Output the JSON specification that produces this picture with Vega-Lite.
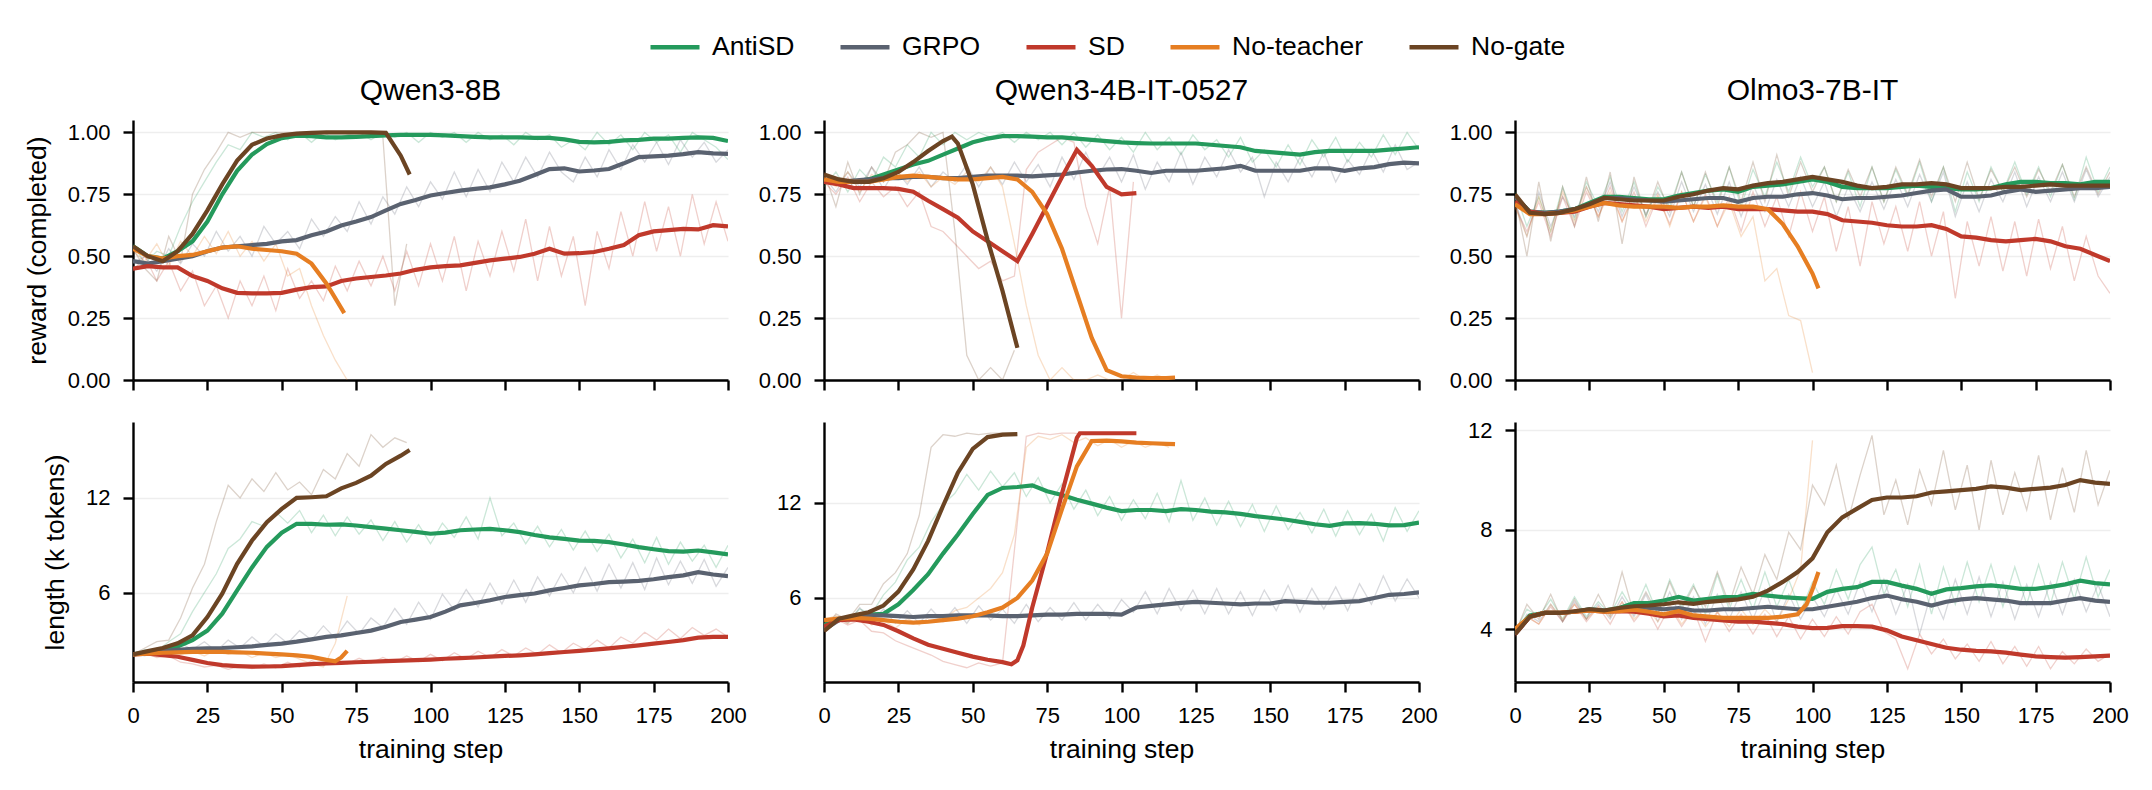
{
"$schema":"https://vega.github.io/schema/vega-lite/v6.json",
"background":"white",
"padding":{"left":24,"top":20,"right":10,"bottom":10},
"datasets":{
"smooth":[
{"p":"Qwen3-8B","m":"reward","x":0,"AntiSD":0.54,"GRPO":0.48,"SD":0.45,"No-teacher":0.53,"No-gate":0.54},
{"p":"Qwen3-8B","m":"reward","x":5,"AntiSD":0.50,"GRPO":0.47,"SD":0.46,"No-teacher":0.50,"No-gate":0.50},
{"p":"Qwen3-8B","m":"reward","x":10,"AntiSD":0.49,"GRPO":0.48,"SD":0.455,"No-teacher":0.49,"No-gate":0.48},
{"p":"Qwen3-8B","m":"reward","x":15,"AntiSD":0.52,"GRPO":0.49,"SD":0.455,"No-teacher":0.50,"No-gate":0.52},
{"p":"Qwen3-8B","m":"reward","x":20,"AntiSD":0.56,"GRPO":0.50,"SD":0.42,"No-teacher":0.505,"No-gate":0.59},
{"p":"Qwen3-8B","m":"reward","x":25,"AntiSD":0.64,"GRPO":0.52,"SD":0.40,"No-teacher":0.52,"No-gate":0.685},
{"p":"Qwen3-8B","m":"reward","x":30,"AntiSD":0.75,"GRPO":0.535,"SD":0.37,"No-teacher":0.535,"No-gate":0.79},
{"p":"Qwen3-8B","m":"reward","x":35,"AntiSD":0.845,"GRPO":0.54,"SD":0.352,"No-teacher":0.54,"No-gate":0.886},
{"p":"Qwen3-8B","m":"reward","x":40,"AntiSD":0.91,"GRPO":0.545,"SD":0.35,"No-teacher":0.53,"No-gate":0.95},
{"p":"Qwen3-8B","m":"reward","x":45,"AntiSD":0.953,"GRPO":0.55,"SD":0.35,"No-teacher":0.525,"No-gate":0.975},
{"p":"Qwen3-8B","m":"reward","x":50,"AntiSD":0.977,"GRPO":0.56,"SD":0.352,"No-teacher":0.52,"No-gate":0.988},
{"p":"Qwen3-8B","m":"reward","x":55,"AntiSD":0.987,"GRPO":0.565,"SD":0.365,"No-teacher":0.51,"No-gate":0.995},
{"p":"Qwen3-8B","m":"reward","x":60,"AntiSD":0.985,"GRPO":0.585,"SD":0.375,"No-teacher":0.47,"No-gate":0.998},
{"p":"Qwen3-8B","m":"reward","x":65,"AntiSD":0.98,"GRPO":0.60,"SD":0.378,"No-teacher":0.39,"No-gate":1.0},
{"p":"Qwen3-8B","m":"reward","x":70,"AntiSD":0.98,"GRPO":0.624,"SD":0.40,"No-teacher":0.29,"No-gate":1.0},
{"p":"Qwen3-8B","m":"reward","x":71,"No-teacher":0.27},
{"p":"Qwen3-8B","m":"reward","x":75,"AntiSD":0.982,"GRPO":0.64,"SD":0.41,"No-gate":1.0},
{"p":"Qwen3-8B","m":"reward","x":80,"AntiSD":0.985,"GRPO":0.658,"SD":0.416,"No-gate":1.0},
{"p":"Qwen3-8B","m":"reward","x":85,"AntiSD":0.988,"GRPO":0.685,"SD":0.422,"No-gate":0.998},
{"p":"Qwen3-8B","m":"reward","x":90,"AntiSD":0.99,"GRPO":0.711,"SD":0.43,"No-gate":0.906},
{"p":"Qwen3-8B","m":"reward","x":93,"No-gate":0.83},
{"p":"Qwen3-8B","m":"reward","x":95,"AntiSD":0.99,"GRPO":0.727,"SD":0.445},
{"p":"Qwen3-8B","m":"reward","x":100,"AntiSD":0.99,"GRPO":0.745,"SD":0.455},
{"p":"Qwen3-8B","m":"reward","x":105,"AntiSD":0.988,"GRPO":0.755,"SD":0.46},
{"p":"Qwen3-8B","m":"reward","x":110,"AntiSD":0.985,"GRPO":0.765,"SD":0.463},
{"p":"Qwen3-8B","m":"reward","x":115,"AntiSD":0.982,"GRPO":0.772,"SD":0.473},
{"p":"Qwen3-8B","m":"reward","x":120,"AntiSD":0.98,"GRPO":0.778,"SD":0.483},
{"p":"Qwen3-8B","m":"reward","x":125,"AntiSD":0.98,"GRPO":0.79,"SD":0.49},
{"p":"Qwen3-8B","m":"reward","x":130,"AntiSD":0.98,"GRPO":0.805,"SD":0.497},
{"p":"Qwen3-8B","m":"reward","x":135,"AntiSD":0.978,"GRPO":0.828,"SD":0.51},
{"p":"Qwen3-8B","m":"reward","x":140,"AntiSD":0.978,"GRPO":0.852,"SD":0.53},
{"p":"Qwen3-8B","m":"reward","x":145,"AntiSD":0.972,"GRPO":0.855,"SD":0.51},
{"p":"Qwen3-8B","m":"reward","x":150,"AntiSD":0.962,"GRPO":0.842,"SD":0.512},
{"p":"Qwen3-8B","m":"reward","x":155,"AntiSD":0.96,"GRPO":0.846,"SD":0.517},
{"p":"Qwen3-8B","m":"reward","x":160,"AntiSD":0.962,"GRPO":0.852,"SD":0.53},
{"p":"Qwen3-8B","m":"reward","x":165,"AntiSD":0.968,"GRPO":0.875,"SD":0.545},
{"p":"Qwen3-8B","m":"reward","x":170,"AntiSD":0.97,"GRPO":0.90,"SD":0.585},
{"p":"Qwen3-8B","m":"reward","x":175,"AntiSD":0.975,"GRPO":0.903,"SD":0.60},
{"p":"Qwen3-8B","m":"reward","x":180,"AntiSD":0.975,"GRPO":0.906,"SD":0.605},
{"p":"Qwen3-8B","m":"reward","x":185,"AntiSD":0.978,"GRPO":0.912,"SD":0.61},
{"p":"Qwen3-8B","m":"reward","x":190,"AntiSD":0.98,"GRPO":0.92,"SD":0.608},
{"p":"Qwen3-8B","m":"reward","x":195,"AntiSD":0.978,"GRPO":0.915,"SD":0.625},
{"p":"Qwen3-8B","m":"reward","x":200,"AntiSD":0.965,"GRPO":0.913,"SD":0.62},

{"p":"Qwen3-8B","m":"length","x":0,"AntiSD":2.1,"GRPO":2.1,"SD":2.1,"No-teacher":2.1,"No-gate":2.1},
{"p":"Qwen3-8B","m":"length","x":5,"AntiSD":2.25,"GRPO":2.2,"SD":2.15,"No-teacher":2.15,"No-gate":2.3},
{"p":"Qwen3-8B","m":"length","x":10,"AntiSD":2.4,"GRPO":2.3,"SD":2.05,"No-teacher":2.2,"No-gate":2.5},
{"p":"Qwen3-8B","m":"length","x":15,"AntiSD":2.6,"GRPO":2.38,"SD":1.95,"No-teacher":2.22,"No-gate":2.8},
{"p":"Qwen3-8B","m":"length","x":20,"AntiSD":3.0,"GRPO":2.45,"SD":1.75,"No-teacher":2.25,"No-gate":3.3},
{"p":"Qwen3-8B","m":"length","x":25,"AntiSD":3.6,"GRPO":2.48,"SD":1.55,"No-teacher":2.25,"No-gate":4.46},
{"p":"Qwen3-8B","m":"length","x":30,"AntiSD":4.67,"GRPO":2.5,"SD":1.42,"No-teacher":2.25,"No-gate":5.94},
{"p":"Qwen3-8B","m":"length","x":35,"AntiSD":6.15,"GRPO":2.55,"SD":1.36,"No-teacher":2.22,"No-gate":7.83},
{"p":"Qwen3-8B","m":"length","x":40,"AntiSD":7.6,"GRPO":2.6,"SD":1.32,"No-teacher":2.2,"No-gate":9.3},
{"p":"Qwen3-8B","m":"length","x":45,"AntiSD":8.9,"GRPO":2.7,"SD":1.33,"No-teacher":2.15,"No-gate":10.46},
{"p":"Qwen3-8B","m":"length","x":50,"AntiSD":9.8,"GRPO":2.78,"SD":1.36,"No-teacher":2.1,"No-gate":11.3},
{"p":"Qwen3-8B","m":"length","x":55,"AntiSD":10.36,"GRPO":2.9,"SD":1.42,"No-teacher":2.04,"No-gate":12.0},
{"p":"Qwen3-8B","m":"length","x":60,"AntiSD":10.36,"GRPO":3.05,"SD":1.48,"No-teacher":1.94,"No-gate":12.04},
{"p":"Qwen3-8B","m":"length","x":65,"AntiSD":10.3,"GRPO":3.2,"SD":1.52,"No-teacher":1.75,"No-gate":12.1},
{"p":"Qwen3-8B","m":"length","x":68,"No-teacher":1.66},
{"p":"Qwen3-8B","m":"length","x":70,"AntiSD":10.32,"GRPO":3.3,"SD":1.56,"No-teacher":1.9,"No-gate":12.6},
{"p":"Qwen3-8B","m":"length","x":72,"No-teacher":2.32},
{"p":"Qwen3-8B","m":"length","x":75,"AntiSD":10.25,"GRPO":3.45,"SD":1.6,"No-gate":12.95},
{"p":"Qwen3-8B","m":"length","x":80,"AntiSD":10.15,"GRPO":3.6,"SD":1.63,"No-gate":13.4},
{"p":"Qwen3-8B","m":"length","x":85,"AntiSD":10.05,"GRPO":3.85,"SD":1.67,"No-gate":14.15},
{"p":"Qwen3-8B","m":"length","x":90,"AntiSD":9.95,"GRPO":4.15,"SD":1.7,"No-gate":14.67},
{"p":"Qwen3-8B","m":"length","x":93,"No-gate":15.03},
{"p":"Qwen3-8B","m":"length","x":95,"AntiSD":9.85,"GRPO":4.3,"SD":1.73},
{"p":"Qwen3-8B","m":"length","x":100,"AntiSD":9.73,"GRPO":4.46,"SD":1.77},
{"p":"Qwen3-8B","m":"length","x":105,"AntiSD":9.8,"GRPO":4.8,"SD":1.82},
{"p":"Qwen3-8B","m":"length","x":110,"AntiSD":9.95,"GRPO":5.2,"SD":1.86},
{"p":"Qwen3-8B","m":"length","x":115,"AntiSD":10.0,"GRPO":5.35,"SD":1.9},
{"p":"Qwen3-8B","m":"length","x":120,"AntiSD":10.04,"GRPO":5.52,"SD":1.95},
{"p":"Qwen3-8B","m":"length","x":125,"AntiSD":9.95,"GRPO":5.73,"SD":2.0},
{"p":"Qwen3-8B","m":"length","x":130,"AntiSD":9.83,"GRPO":5.85,"SD":2.04},
{"p":"Qwen3-8B","m":"length","x":135,"AntiSD":9.65,"GRPO":5.95,"SD":2.1},
{"p":"Qwen3-8B","m":"length","x":140,"AntiSD":9.5,"GRPO":6.15,"SD":2.18},
{"p":"Qwen3-8B","m":"length","x":145,"AntiSD":9.4,"GRPO":6.3,"SD":2.25},
{"p":"Qwen3-8B","m":"length","x":150,"AntiSD":9.3,"GRPO":6.46,"SD":2.32},
{"p":"Qwen3-8B","m":"length","x":155,"AntiSD":9.28,"GRPO":6.55,"SD":2.4},
{"p":"Qwen3-8B","m":"length","x":160,"AntiSD":9.2,"GRPO":6.67,"SD":2.48},
{"p":"Qwen3-8B","m":"length","x":165,"AntiSD":9.05,"GRPO":6.7,"SD":2.57},
{"p":"Qwen3-8B","m":"length","x":170,"AntiSD":8.88,"GRPO":6.75,"SD":2.67},
{"p":"Qwen3-8B","m":"length","x":175,"AntiSD":8.75,"GRPO":6.85,"SD":2.78},
{"p":"Qwen3-8B","m":"length","x":180,"AntiSD":8.63,"GRPO":6.99,"SD":2.88},
{"p":"Qwen3-8B","m":"length","x":185,"AntiSD":8.6,"GRPO":7.1,"SD":3.0},
{"p":"Qwen3-8B","m":"length","x":190,"AntiSD":8.67,"GRPO":7.3,"SD":3.16},
{"p":"Qwen3-8B","m":"length","x":195,"AntiSD":8.55,"GRPO":7.15,"SD":3.2},
{"p":"Qwen3-8B","m":"length","x":200,"AntiSD":8.42,"GRPO":7.05,"SD":3.2},

{"p":"Qwen3-4B-IT-0527","m":"reward","x":0,"AntiSD":0.80,"GRPO":0.80,"SD":0.80,"No-teacher":0.81,"No-gate":0.83},
{"p":"Qwen3-4B-IT-0527","m":"reward","x":5,"AntiSD":0.80,"GRPO":0.80,"SD":0.79,"No-teacher":0.80,"No-gate":0.81},
{"p":"Qwen3-4B-IT-0527","m":"reward","x":10,"AntiSD":0.80,"GRPO":0.805,"SD":0.775,"No-teacher":0.80,"No-gate":0.80},
{"p":"Qwen3-4B-IT-0527","m":"reward","x":15,"AntiSD":0.81,"GRPO":0.81,"SD":0.775,"No-teacher":0.80,"No-gate":0.80},
{"p":"Qwen3-4B-IT-0527","m":"reward","x":20,"AntiSD":0.83,"GRPO":0.815,"SD":0.775,"No-teacher":0.81,"No-gate":0.815},
{"p":"Qwen3-4B-IT-0527","m":"reward","x":25,"AntiSD":0.85,"GRPO":0.815,"SD":0.772,"No-teacher":0.82,"No-gate":0.84},
{"p":"Qwen3-4B-IT-0527","m":"reward","x":30,"AntiSD":0.87,"GRPO":0.82,"SD":0.76,"No-teacher":0.825,"No-gate":0.88},
{"p":"Qwen3-4B-IT-0527","m":"reward","x":35,"AntiSD":0.885,"GRPO":0.82,"SD":0.724,"No-teacher":0.82,"No-gate":0.925},
{"p":"Qwen3-4B-IT-0527","m":"reward","x":40,"AntiSD":0.91,"GRPO":0.815,"SD":0.69,"No-teacher":0.815,"No-gate":0.965},
{"p":"Qwen3-4B-IT-0527","m":"reward","x":43,"No-gate":0.983},
{"p":"Qwen3-4B-IT-0527","m":"reward","x":45,"AntiSD":0.935,"GRPO":0.815,"SD":0.655,"No-teacher":0.81,"No-gate":0.955},
{"p":"Qwen3-4B-IT-0527","m":"reward","x":50,"AntiSD":0.96,"GRPO":0.82,"SD":0.60,"No-teacher":0.81,"No-gate":0.79},
{"p":"Qwen3-4B-IT-0527","m":"reward","x":55,"AntiSD":0.975,"GRPO":0.825,"SD":0.56,"No-teacher":0.815,"No-gate":0.565},
{"p":"Qwen3-4B-IT-0527","m":"reward","x":60,"AntiSD":0.985,"GRPO":0.825,"SD":0.52,"No-teacher":0.82,"No-gate":0.36},
{"p":"Qwen3-4B-IT-0527","m":"reward","x":65,"AntiSD":0.985,"GRPO":0.825,"SD":0.48,"No-teacher":0.81,"No-gate":0.13},
{"p":"Qwen3-4B-IT-0527","m":"reward","x":70,"AntiSD":0.983,"GRPO":0.822,"SD":0.59,"No-teacher":0.76},
{"p":"Qwen3-4B-IT-0527","m":"reward","x":75,"AntiSD":0.98,"GRPO":0.826,"SD":0.705,"No-teacher":0.67},
{"p":"Qwen3-4B-IT-0527","m":"reward","x":80,"AntiSD":0.98,"GRPO":0.83,"SD":0.82,"No-teacher":0.53},
{"p":"Qwen3-4B-IT-0527","m":"reward","x":85,"AntiSD":0.975,"GRPO":0.838,"SD":0.93,"No-teacher":0.35},
{"p":"Qwen3-4B-IT-0527","m":"reward","x":90,"AntiSD":0.97,"GRPO":0.845,"SD":0.865,"No-teacher":0.17},
{"p":"Qwen3-4B-IT-0527","m":"reward","x":95,"AntiSD":0.965,"GRPO":0.85,"SD":0.78,"No-teacher":0.04},
{"p":"Qwen3-4B-IT-0527","m":"reward","x":100,"AntiSD":0.96,"GRPO":0.852,"SD":0.75,"No-teacher":0.015},
{"p":"Qwen3-4B-IT-0527","m":"reward","x":105,"AntiSD":0.957,"GRPO":0.845,"SD":0.755,"No-teacher":0.01},
{"p":"Qwen3-4B-IT-0527","m":"reward","x":110,"AntiSD":0.955,"GRPO":0.836,"No-teacher":0.008},
{"p":"Qwen3-4B-IT-0527","m":"reward","x":115,"AntiSD":0.955,"GRPO":0.845,"No-teacher":0.008},
{"p":"Qwen3-4B-IT-0527","m":"reward","x":118,"No-teacher":0.01},
{"p":"Qwen3-4B-IT-0527","m":"reward","x":120,"AntiSD":0.955,"GRPO":0.845},
{"p":"Qwen3-4B-IT-0527","m":"reward","x":125,"AntiSD":0.955,"GRPO":0.845},
{"p":"Qwen3-4B-IT-0527","m":"reward","x":130,"AntiSD":0.95,"GRPO":0.85},
{"p":"Qwen3-4B-IT-0527","m":"reward","x":135,"AntiSD":0.945,"GRPO":0.855},
{"p":"Qwen3-4B-IT-0527","m":"reward","x":140,"AntiSD":0.94,"GRPO":0.865},
{"p":"Qwen3-4B-IT-0527","m":"reward","x":145,"AntiSD":0.925,"GRPO":0.845},
{"p":"Qwen3-4B-IT-0527","m":"reward","x":150,"AntiSD":0.92,"GRPO":0.845},
{"p":"Qwen3-4B-IT-0527","m":"reward","x":155,"AntiSD":0.915,"GRPO":0.845},
{"p":"Qwen3-4B-IT-0527","m":"reward","x":160,"AntiSD":0.91,"GRPO":0.845},
{"p":"Qwen3-4B-IT-0527","m":"reward","x":165,"AntiSD":0.92,"GRPO":0.855},
{"p":"Qwen3-4B-IT-0527","m":"reward","x":170,"AntiSD":0.925,"GRPO":0.855},
{"p":"Qwen3-4B-IT-0527","m":"reward","x":175,"AntiSD":0.925,"GRPO":0.845},
{"p":"Qwen3-4B-IT-0527","m":"reward","x":180,"AntiSD":0.925,"GRPO":0.855},
{"p":"Qwen3-4B-IT-0527","m":"reward","x":185,"AntiSD":0.925,"GRPO":0.86},
{"p":"Qwen3-4B-IT-0527","m":"reward","x":190,"AntiSD":0.93,"GRPO":0.872},
{"p":"Qwen3-4B-IT-0527","m":"reward","x":195,"AntiSD":0.935,"GRPO":0.878},
{"p":"Qwen3-4B-IT-0527","m":"reward","x":200,"AntiSD":0.94,"GRPO":0.875},

{"p":"Qwen3-4B-IT-0527","m":"length","x":0,"AntiSD":4.3,"GRPO":4.0,"SD":4.2,"No-teacher":4.6,"No-gate":3.9},
{"p":"Qwen3-4B-IT-0527","m":"length","x":5,"AntiSD":4.6,"GRPO":4.6,"SD":4.6,"No-teacher":4.7,"No-gate":4.7},
{"p":"Qwen3-4B-IT-0527","m":"length","x":10,"AntiSD":4.8,"GRPO":4.85,"SD":4.65,"No-teacher":4.75,"No-gate":4.9},
{"p":"Qwen3-4B-IT-0527","m":"length","x":15,"AntiSD":4.95,"GRPO":4.9,"SD":4.5,"No-teacher":4.7,"No-gate":5.1},
{"p":"Qwen3-4B-IT-0527","m":"length","x":20,"AntiSD":5.0,"GRPO":4.9,"SD":4.3,"No-teacher":4.6,"No-gate":5.52},
{"p":"Qwen3-4B-IT-0527","m":"length","x":25,"AntiSD":5.6,"GRPO":4.85,"SD":3.9,"No-teacher":4.5,"No-gate":6.4},
{"p":"Qwen3-4B-IT-0527","m":"length","x":30,"AntiSD":6.5,"GRPO":4.8,"SD":3.45,"No-teacher":4.45,"No-gate":7.8},
{"p":"Qwen3-4B-IT-0527","m":"length","x":35,"AntiSD":7.5,"GRPO":4.85,"SD":3.05,"No-teacher":4.5,"No-gate":9.6},
{"p":"Qwen3-4B-IT-0527","m":"length","x":40,"AntiSD":8.8,"GRPO":4.85,"SD":2.8,"No-teacher":4.6,"No-gate":11.8},
{"p":"Qwen3-4B-IT-0527","m":"length","x":45,"AntiSD":10.0,"GRPO":4.9,"SD":2.55,"No-teacher":4.7,"No-gate":13.9},
{"p":"Qwen3-4B-IT-0527","m":"length","x":50,"AntiSD":11.3,"GRPO":4.9,"SD":2.3,"No-teacher":4.85,"No-gate":15.4},
{"p":"Qwen3-4B-IT-0527","m":"length","x":55,"AntiSD":12.5,"GRPO":4.9,"SD":2.1,"No-teacher":5.1,"No-gate":16.15},
{"p":"Qwen3-4B-IT-0527","m":"length","x":60,"AntiSD":12.94,"GRPO":4.85,"SD":1.95,"No-teacher":5.4,"No-gate":16.3},
{"p":"Qwen3-4B-IT-0527","m":"length","x":63,"SD":1.82},
{"p":"Qwen3-4B-IT-0527","m":"length","x":65,"AntiSD":13.0,"GRPO":4.85,"SD":2.07,"No-teacher":6.0,"No-gate":16.33},
{"p":"Qwen3-4B-IT-0527","m":"length","x":67,"SD":3.0},
{"p":"Qwen3-4B-IT-0527","m":"length","x":70,"AntiSD":13.1,"GRPO":4.9,"SD":5.4,"No-teacher":7.1},
{"p":"Qwen3-4B-IT-0527","m":"length","x":75,"AntiSD":12.73,"GRPO":4.95,"SD":8.85,"No-teacher":8.8},
{"p":"Qwen3-4B-IT-0527","m":"length","x":80,"AntiSD":12.5,"GRPO":4.95,"SD":12.6,"No-teacher":11.6},
{"p":"Qwen3-4B-IT-0527","m":"length","x":85,"AntiSD":12.2,"GRPO":5.0,"SD":16.1,"No-teacher":14.3},
{"p":"Qwen3-4B-IT-0527","m":"length","x":86,"SD":16.39},
{"p":"Qwen3-4B-IT-0527","m":"length","x":90,"AntiSD":11.95,"GRPO":5.0,"SD":16.39,"No-teacher":15.9},
{"p":"Qwen3-4B-IT-0527","m":"length","x":95,"AntiSD":11.7,"GRPO":5.0,"SD":16.39,"No-teacher":15.93},
{"p":"Qwen3-4B-IT-0527","m":"length","x":100,"AntiSD":11.48,"GRPO":4.95,"SD":16.39,"No-teacher":15.88},
{"p":"Qwen3-4B-IT-0527","m":"length","x":105,"AntiSD":11.55,"GRPO":5.4,"SD":16.39,"No-teacher":15.8},
{"p":"Qwen3-4B-IT-0527","m":"length","x":110,"AntiSD":11.55,"GRPO":5.5,"No-teacher":15.76},
{"p":"Qwen3-4B-IT-0527","m":"length","x":115,"AntiSD":11.48,"GRPO":5.6,"No-teacher":15.72},
{"p":"Qwen3-4B-IT-0527","m":"length","x":118,"No-teacher":15.7},
{"p":"Qwen3-4B-IT-0527","m":"length","x":120,"AntiSD":11.6,"GRPO":5.69},
{"p":"Qwen3-4B-IT-0527","m":"length","x":125,"AntiSD":11.55,"GRPO":5.75},
{"p":"Qwen3-4B-IT-0527","m":"length","x":130,"AntiSD":11.45,"GRPO":5.7},
{"p":"Qwen3-4B-IT-0527","m":"length","x":135,"AntiSD":11.4,"GRPO":5.65},
{"p":"Qwen3-4B-IT-0527","m":"length","x":140,"AntiSD":11.3,"GRPO":5.6},
{"p":"Qwen3-4B-IT-0527","m":"length","x":145,"AntiSD":11.16,"GRPO":5.65},
{"p":"Qwen3-4B-IT-0527","m":"length","x":150,"AntiSD":11.06,"GRPO":5.65},
{"p":"Qwen3-4B-IT-0527","m":"length","x":155,"AntiSD":10.95,"GRPO":5.8},
{"p":"Qwen3-4B-IT-0527","m":"length","x":160,"AntiSD":10.8,"GRPO":5.75},
{"p":"Qwen3-4B-IT-0527","m":"length","x":165,"AntiSD":10.65,"GRPO":5.7},
{"p":"Qwen3-4B-IT-0527","m":"length","x":170,"AntiSD":10.55,"GRPO":5.7},
{"p":"Qwen3-4B-IT-0527","m":"length","x":175,"AntiSD":10.7,"GRPO":5.75},
{"p":"Qwen3-4B-IT-0527","m":"length","x":180,"AntiSD":10.72,"GRPO":5.8},
{"p":"Qwen3-4B-IT-0527","m":"length","x":185,"AntiSD":10.68,"GRPO":6.0},
{"p":"Qwen3-4B-IT-0527","m":"length","x":190,"AntiSD":10.58,"GRPO":6.2},
{"p":"Qwen3-4B-IT-0527","m":"length","x":195,"AntiSD":10.6,"GRPO":6.25},
{"p":"Qwen3-4B-IT-0527","m":"length","x":200,"AntiSD":10.75,"GRPO":6.35},

{"p":"Olmo3-7B-IT","m":"reward","x":0,"AntiSD":0.74,"GRPO":0.74,"SD":0.72,"No-teacher":0.71,"No-gate":0.75},
{"p":"Olmo3-7B-IT","m":"reward","x":5,"AntiSD":0.68,"GRPO":0.68,"SD":0.68,"No-teacher":0.67,"No-gate":0.675},
{"p":"Olmo3-7B-IT","m":"reward","x":10,"AntiSD":0.675,"GRPO":0.675,"SD":0.67,"No-teacher":0.67,"No-gate":0.67},
{"p":"Olmo3-7B-IT","m":"reward","x":15,"AntiSD":0.68,"GRPO":0.68,"SD":0.675,"No-teacher":0.675,"No-gate":0.675},
{"p":"Olmo3-7B-IT","m":"reward","x":20,"AntiSD":0.69,"GRPO":0.69,"SD":0.68,"No-teacher":0.685,"No-gate":0.69},
{"p":"Olmo3-7B-IT","m":"reward","x":25,"AntiSD":0.715,"GRPO":0.71,"SD":0.70,"No-teacher":0.70,"No-gate":0.71},
{"p":"Olmo3-7B-IT","m":"reward","x":30,"AntiSD":0.74,"GRPO":0.735,"SD":0.715,"No-teacher":0.715,"No-gate":0.735},
{"p":"Olmo3-7B-IT","m":"reward","x":35,"AntiSD":0.74,"GRPO":0.735,"SD":0.71,"No-teacher":0.705,"No-gate":0.73},
{"p":"Olmo3-7B-IT","m":"reward","x":40,"AntiSD":0.735,"GRPO":0.73,"SD":0.705,"No-teacher":0.70,"No-gate":0.725},
{"p":"Olmo3-7B-IT","m":"reward","x":45,"AntiSD":0.73,"GRPO":0.725,"SD":0.70,"No-teacher":0.70,"No-gate":0.725},
{"p":"Olmo3-7B-IT","m":"reward","x":50,"AntiSD":0.73,"GRPO":0.72,"SD":0.69,"No-teacher":0.70,"No-gate":0.725},
{"p":"Olmo3-7B-IT","m":"reward","x":55,"AntiSD":0.745,"GRPO":0.725,"SD":0.695,"No-teacher":0.695,"No-gate":0.74},
{"p":"Olmo3-7B-IT","m":"reward","x":60,"AntiSD":0.755,"GRPO":0.73,"SD":0.70,"No-teacher":0.70,"No-gate":0.75},
{"p":"Olmo3-7B-IT","m":"reward","x":65,"AntiSD":0.765,"GRPO":0.735,"SD":0.695,"No-teacher":0.70,"No-gate":0.765},
{"p":"Olmo3-7B-IT","m":"reward","x":70,"AntiSD":0.77,"GRPO":0.735,"SD":0.70,"No-teacher":0.705,"No-gate":0.775},
{"p":"Olmo3-7B-IT","m":"reward","x":75,"AntiSD":0.76,"GRPO":0.72,"SD":0.69,"No-teacher":0.70,"No-gate":0.77},
{"p":"Olmo3-7B-IT","m":"reward","x":80,"AntiSD":0.78,"GRPO":0.735,"SD":0.69,"No-teacher":0.70,"No-gate":0.785},
{"p":"Olmo3-7B-IT","m":"reward","x":85,"AntiSD":0.785,"GRPO":0.74,"SD":0.69,"No-teacher":0.69,"No-gate":0.795},
{"p":"Olmo3-7B-IT","m":"reward","x":90,"AntiSD":0.79,"GRPO":0.74,"SD":0.685,"No-teacher":0.63,"No-gate":0.80},
{"p":"Olmo3-7B-IT","m":"reward","x":95,"AntiSD":0.80,"GRPO":0.75,"SD":0.68,"No-teacher":0.54,"No-gate":0.81},
{"p":"Olmo3-7B-IT","m":"reward","x":100,"AntiSD":0.81,"GRPO":0.755,"SD":0.68,"No-teacher":0.43,"No-gate":0.82},
{"p":"Olmo3-7B-IT","m":"reward","x":102,"No-teacher":0.37},
{"p":"Olmo3-7B-IT","m":"reward","x":105,"AntiSD":0.80,"GRPO":0.745,"SD":0.67,"No-gate":0.81},
{"p":"Olmo3-7B-IT","m":"reward","x":110,"AntiSD":0.78,"GRPO":0.73,"SD":0.645,"No-gate":0.80},
{"p":"Olmo3-7B-IT","m":"reward","x":115,"AntiSD":0.775,"GRPO":0.735,"SD":0.64,"No-gate":0.785},
{"p":"Olmo3-7B-IT","m":"reward","x":120,"AntiSD":0.775,"GRPO":0.735,"SD":0.635,"No-gate":0.775},
{"p":"Olmo3-7B-IT","m":"reward","x":125,"AntiSD":0.775,"GRPO":0.74,"SD":0.625,"No-gate":0.78},
{"p":"Olmo3-7B-IT","m":"reward","x":130,"AntiSD":0.78,"GRPO":0.745,"SD":0.62,"No-gate":0.79},
{"p":"Olmo3-7B-IT","m":"reward","x":135,"AntiSD":0.785,"GRPO":0.755,"SD":0.62,"No-gate":0.79},
{"p":"Olmo3-7B-IT","m":"reward","x":140,"AntiSD":0.78,"GRPO":0.765,"SD":0.625,"No-gate":0.795},
{"p":"Olmo3-7B-IT","m":"reward","x":145,"AntiSD":0.775,"GRPO":0.77,"SD":0.61,"No-gate":0.79},
{"p":"Olmo3-7B-IT","m":"reward","x":150,"AntiSD":0.77,"GRPO":0.74,"SD":0.58,"No-gate":0.775},
{"p":"Olmo3-7B-IT","m":"reward","x":155,"AntiSD":0.77,"GRPO":0.74,"SD":0.575,"No-gate":0.775},
{"p":"Olmo3-7B-IT","m":"reward","x":160,"AntiSD":0.775,"GRPO":0.745,"SD":0.565,"No-gate":0.775},
{"p":"Olmo3-7B-IT","m":"reward","x":165,"AntiSD":0.79,"GRPO":0.76,"SD":0.56,"No-gate":0.78},
{"p":"Olmo3-7B-IT","m":"reward","x":170,"AntiSD":0.80,"GRPO":0.77,"SD":0.565,"No-gate":0.78},
{"p":"Olmo3-7B-IT","m":"reward","x":175,"AntiSD":0.80,"GRPO":0.76,"SD":0.57,"No-gate":0.785},
{"p":"Olmo3-7B-IT","m":"reward","x":180,"AntiSD":0.795,"GRPO":0.765,"SD":0.56,"No-gate":0.79},
{"p":"Olmo3-7B-IT","m":"reward","x":185,"AntiSD":0.795,"GRPO":0.77,"SD":0.54,"No-gate":0.785},
{"p":"Olmo3-7B-IT","m":"reward","x":190,"AntiSD":0.79,"GRPO":0.775,"SD":0.53,"No-gate":0.785},
{"p":"Olmo3-7B-IT","m":"reward","x":195,"AntiSD":0.80,"GRPO":0.775,"SD":0.505,"No-gate":0.785},
{"p":"Olmo3-7B-IT","m":"reward","x":200,"AntiSD":0.80,"GRPO":0.78,"SD":0.48,"No-gate":0.785},

{"p":"Olmo3-7B-IT","m":"length","x":0,"AntiSD":3.9,"GRPO":3.8,"SD":3.8,"No-teacher":4.0,"No-gate":3.8},
{"p":"Olmo3-7B-IT","m":"length","x":5,"AntiSD":4.55,"GRPO":4.5,"SD":4.5,"No-teacher":4.5,"No-gate":4.5},
{"p":"Olmo3-7B-IT","m":"length","x":10,"AntiSD":4.65,"GRPO":4.65,"SD":4.65,"No-teacher":4.65,"No-gate":4.65},
{"p":"Olmo3-7B-IT","m":"length","x":15,"AntiSD":4.65,"GRPO":4.65,"SD":4.65,"No-teacher":4.65,"No-gate":4.65},
{"p":"Olmo3-7B-IT","m":"length","x":20,"AntiSD":4.7,"GRPO":4.7,"SD":4.7,"No-teacher":4.7,"No-gate":4.72},
{"p":"Olmo3-7B-IT","m":"length","x":25,"AntiSD":4.8,"GRPO":4.8,"SD":4.75,"No-teacher":4.75,"No-gate":4.8},
{"p":"Olmo3-7B-IT","m":"length","x":30,"AntiSD":4.75,"GRPO":4.75,"SD":4.7,"No-teacher":4.7,"No-gate":4.75},
{"p":"Olmo3-7B-IT","m":"length","x":35,"AntiSD":4.85,"GRPO":4.8,"SD":4.72,"No-teacher":4.72,"No-gate":4.85},
{"p":"Olmo3-7B-IT","m":"length","x":40,"AntiSD":5.05,"GRPO":4.9,"SD":4.7,"No-teacher":4.78,"No-gate":4.92},
{"p":"Olmo3-7B-IT","m":"length","x":45,"AntiSD":5.05,"GRPO":4.85,"SD":4.62,"No-teacher":4.7,"No-gate":4.95},
{"p":"Olmo3-7B-IT","m":"length","x":50,"AntiSD":5.15,"GRPO":4.8,"SD":4.51,"No-teacher":4.6,"No-gate":5.0},
{"p":"Olmo3-7B-IT","m":"length","x":55,"AntiSD":5.3,"GRPO":4.85,"SD":4.55,"No-teacher":4.72,"No-gate":5.08},
{"p":"Olmo3-7B-IT","m":"length","x":60,"AntiSD":5.15,"GRPO":4.75,"SD":4.45,"No-teacher":4.55,"No-gate":5.02},
{"p":"Olmo3-7B-IT","m":"length","x":65,"AntiSD":5.22,"GRPO":4.75,"SD":4.4,"No-teacher":4.5,"No-gate":5.1},
{"p":"Olmo3-7B-IT","m":"length","x":70,"AntiSD":5.29,"GRPO":4.8,"SD":4.35,"No-teacher":4.45,"No-gate":5.15},
{"p":"Olmo3-7B-IT","m":"length","x":75,"AntiSD":5.3,"GRPO":4.8,"SD":4.3,"No-teacher":4.45,"No-gate":5.2},
{"p":"Olmo3-7B-IT","m":"length","x":80,"AntiSD":5.42,"GRPO":4.85,"SD":4.3,"No-teacher":4.45,"No-gate":5.3},
{"p":"Olmo3-7B-IT","m":"length","x":85,"AntiSD":5.35,"GRPO":4.9,"SD":4.25,"No-teacher":4.45,"No-gate":5.55},
{"p":"Olmo3-7B-IT","m":"length","x":90,"AntiSD":5.29,"GRPO":4.85,"SD":4.2,"No-teacher":4.5,"No-gate":5.9},
{"p":"Olmo3-7B-IT","m":"length","x":95,"AntiSD":5.25,"GRPO":4.8,"SD":4.1,"No-teacher":4.6,"No-gate":6.3},
{"p":"Olmo3-7B-IT","m":"length","x":98,"No-teacher":5.0},
{"p":"Olmo3-7B-IT","m":"length","x":100,"AntiSD":5.22,"GRPO":4.8,"SD":4.04,"No-teacher":5.6,"No-gate":6.85},
{"p":"Olmo3-7B-IT","m":"length","x":102,"No-teacher":6.3},
{"p":"Olmo3-7B-IT","m":"length","x":105,"AntiSD":5.5,"GRPO":4.9,"SD":4.05,"No-gate":7.9},
{"p":"Olmo3-7B-IT","m":"length","x":110,"AntiSD":5.62,"GRPO":5.0,"SD":4.12,"No-gate":8.5},
{"p":"Olmo3-7B-IT","m":"length","x":115,"AntiSD":5.69,"GRPO":5.1,"SD":4.12,"No-gate":8.85},
{"p":"Olmo3-7B-IT","m":"length","x":120,"AntiSD":5.9,"GRPO":5.25,"SD":4.1,"No-gate":9.2},
{"p":"Olmo3-7B-IT","m":"length","x":125,"AntiSD":5.9,"GRPO":5.35,"SD":3.95,"No-gate":9.3},
{"p":"Olmo3-7B-IT","m":"length","x":130,"AntiSD":5.75,"GRPO":5.2,"SD":3.7,"No-gate":9.3},
{"p":"Olmo3-7B-IT","m":"length","x":135,"AntiSD":5.62,"GRPO":5.1,"SD":3.55,"No-gate":9.35},
{"p":"Olmo3-7B-IT","m":"length","x":140,"AntiSD":5.42,"GRPO":4.95,"SD":3.4,"No-gate":9.5},
{"p":"Olmo3-7B-IT","m":"length","x":145,"AntiSD":5.6,"GRPO":5.1,"SD":3.25,"No-gate":9.55},
{"p":"Olmo3-7B-IT","m":"length","x":150,"AntiSD":5.65,"GRPO":5.2,"SD":3.17,"No-gate":9.6},
{"p":"Olmo3-7B-IT","m":"length","x":155,"AntiSD":5.72,"GRPO":5.25,"SD":3.12,"No-gate":9.65},
{"p":"Olmo3-7B-IT","m":"length","x":160,"AntiSD":5.76,"GRPO":5.2,"SD":3.1,"No-gate":9.75},
{"p":"Olmo3-7B-IT","m":"length","x":165,"AntiSD":5.7,"GRPO":5.15,"SD":3.05,"No-gate":9.7},
{"p":"Olmo3-7B-IT","m":"length","x":170,"AntiSD":5.62,"GRPO":5.05,"SD":2.97,"No-gate":9.6},
{"p":"Olmo3-7B-IT","m":"length","x":175,"AntiSD":5.62,"GRPO":5.05,"SD":2.9,"No-gate":9.65},
{"p":"Olmo3-7B-IT","m":"length","x":180,"AntiSD":5.7,"GRPO":5.05,"SD":2.87,"No-gate":9.7},
{"p":"Olmo3-7B-IT","m":"length","x":185,"AntiSD":5.8,"GRPO":5.15,"SD":2.85,"No-gate":9.8},
{"p":"Olmo3-7B-IT","m":"length","x":190,"AntiSD":5.95,"GRPO":5.25,"SD":2.87,"No-gate":10.0},
{"p":"Olmo3-7B-IT","m":"length","x":195,"AntiSD":5.85,"GRPO":5.15,"SD":2.9,"No-gate":9.9},
{"p":"Olmo3-7B-IT","m":"length","x":200,"AntiSD":5.8,"GRPO":5.1,"SD":2.93,"No-gate":9.85}
],
"raw":[
{"p":"Qwen3-8B","m":"reward","x":0,"AntiSD":0.55,"GRPO":0.47,"SD":0.44,"No-teacher":0.52,"No-gate":0.53},
{"p":"Qwen3-8B","m":"reward","x":4,"AntiSD":0.47,"GRPO":0.50,"SD":0.50,"No-teacher":0.48,"No-gate":0.45},
{"p":"Qwen3-8B","m":"reward","x":8,"AntiSD":0.52,"GRPO":0.44,"SD":0.40,"No-teacher":0.55,"No-gate":0.40},
{"p":"Qwen3-8B","m":"reward","x":12,"AntiSD":0.50,"GRPO":0.53,"SD":0.48,"No-teacher":0.46,"No-gate":0.58},
{"p":"Qwen3-8B","m":"reward","x":16,"AntiSD":0.62,"GRPO":0.47,"SD":0.36,"No-teacher":0.56,"No-gate":0.48},
{"p":"Qwen3-8B","m":"reward","x":20,"AntiSD":0.72,"GRPO":0.55,"SD":0.44,"No-teacher":0.50,"No-gate":0.75},
{"p":"Qwen3-8B","m":"reward","x":24,"AntiSD":0.80,"GRPO":0.50,"SD":0.30,"No-teacher":0.58,"No-gate":0.85},
{"p":"Qwen3-8B","m":"reward","x":28,"AntiSD":0.88,"GRPO":0.60,"SD":0.38,"No-teacher":0.51,"No-gate":0.92},
{"p":"Qwen3-8B","m":"reward","x":32,"AntiSD":0.95,"GRPO":0.52,"SD":0.25,"No-teacher":0.60,"No-gate":1.0},
{"p":"Qwen3-8B","m":"reward","x":36,"AntiSD":0.93,"GRPO":0.58,"SD":0.40,"No-teacher":0.50,"No-gate":0.98},
{"p":"Qwen3-8B","m":"reward","x":40,"AntiSD":1.0,"GRPO":0.50,"SD":0.30,"No-teacher":0.56,"No-gate":1.0},
{"p":"Qwen3-8B","m":"reward","x":44,"AntiSD":0.98,"GRPO":0.62,"SD":0.42,"No-teacher":0.48,"No-gate":1.0},
{"p":"Qwen3-8B","m":"reward","x":48,"AntiSD":1.0,"GRPO":0.55,"SD":0.28,"No-teacher":0.55,"No-gate":1.0},
{"p":"Qwen3-8B","m":"reward","x":52,"AntiSD":0.97,"GRPO":0.60,"SD":0.45,"No-teacher":0.42,"No-gate":1.0},
{"p":"Qwen3-8B","m":"reward","x":56,"AntiSD":1.0,"GRPO":0.53,"SD":0.33,"No-teacher":0.45,"No-gate":1.0},
{"p":"Qwen3-8B","m":"reward","x":60,"AntiSD":0.96,"GRPO":0.65,"SD":0.40,"No-teacher":0.30,"No-gate":1.0},
{"p":"Qwen3-8B","m":"reward","x":64,"AntiSD":1.0,"GRPO":0.58,"SD":0.32,"No-teacher":0.18,"No-gate":1.0},
{"p":"Qwen3-8B","m":"reward","x":68,"AntiSD":0.97,"GRPO":0.66,"SD":0.46,"No-teacher":0.08,"No-gate":1.0},
{"p":"Qwen3-8B","m":"reward","x":72,"AntiSD":0.99,"GRPO":0.60,"SD":0.36,"No-teacher":0.0,"No-gate":1.0},
{"p":"Qwen3-8B","m":"reward","x":76,"AntiSD":1.0,"GRPO":0.72,"SD":0.48,"No-gate":1.0},
{"p":"Qwen3-8B","m":"reward","x":80,"AntiSD":0.97,"GRPO":0.63,"SD":0.38,"No-gate":1.0},
{"p":"Qwen3-8B","m":"reward","x":84,"AntiSD":1.0,"GRPO":0.74,"SD":0.50,"No-gate":0.98},
{"p":"Qwen3-8B","m":"reward","x":88,"AntiSD":0.98,"GRPO":0.67,"SD":0.36,"No-gate":0.30},
{"p":"Qwen3-8B","m":"reward","x":92,"AntiSD":1.0,"GRPO":0.78,"SD":0.52,"No-gate":0.55},
{"p":"Qwen3-8B","m":"reward","x":96,"AntiSD":0.96,"GRPO":0.70,"SD":0.38},
{"p":"Qwen3-8B","m":"reward","x":100,"AntiSD":1.0,"GRPO":0.80,"SD":0.55},
{"p":"Qwen3-8B","m":"reward","x":104,"AntiSD":0.98,"GRPO":0.73,"SD":0.40},
{"p":"Qwen3-8B","m":"reward","x":108,"AntiSD":1.0,"GRPO":0.84,"SD":0.58},
{"p":"Qwen3-8B","m":"reward","x":112,"AntiSD":0.96,"GRPO":0.74,"SD":0.36},
{"p":"Qwen3-8B","m":"reward","x":116,"AntiSD":1.0,"GRPO":0.85,"SD":0.56},
{"p":"Qwen3-8B","m":"reward","x":120,"AntiSD":0.97,"GRPO":0.76,"SD":0.42},
{"p":"Qwen3-8B","m":"reward","x":124,"AntiSD":0.99,"GRPO":0.88,"SD":0.60},
{"p":"Qwen3-8B","m":"reward","x":128,"AntiSD":0.95,"GRPO":0.80,"SD":0.44},
{"p":"Qwen3-8B","m":"reward","x":132,"AntiSD":1.0,"GRPO":0.90,"SD":0.65},
{"p":"Qwen3-8B","m":"reward","x":136,"AntiSD":0.97,"GRPO":0.82,"SD":0.40},
{"p":"Qwen3-8B","m":"reward","x":140,"AntiSD":0.99,"GRPO":0.92,"SD":0.62},
{"p":"Qwen3-8B","m":"reward","x":144,"AntiSD":0.94,"GRPO":0.84,"SD":0.42},
{"p":"Qwen3-8B","m":"reward","x":148,"AntiSD":0.97,"GRPO":0.80,"SD":0.58},
{"p":"Qwen3-8B","m":"reward","x":152,"AntiSD":0.93,"GRPO":0.90,"SD":0.30},
{"p":"Qwen3-8B","m":"reward","x":156,"AntiSD":1.0,"GRPO":0.82,"SD":0.60},
{"p":"Qwen3-8B","m":"reward","x":160,"AntiSD":0.95,"GRPO":0.93,"SD":0.45},
{"p":"Qwen3-8B","m":"reward","x":164,"AntiSD":0.99,"GRPO":0.85,"SD":0.68},
{"p":"Qwen3-8B","m":"reward","x":168,"AntiSD":0.93,"GRPO":0.95,"SD":0.50},
{"p":"Qwen3-8B","m":"reward","x":172,"AntiSD":1.0,"GRPO":0.88,"SD":0.72},
{"p":"Qwen3-8B","m":"reward","x":176,"AntiSD":0.96,"GRPO":0.96,"SD":0.52},
{"p":"Qwen3-8B","m":"reward","x":180,"AntiSD":0.99,"GRPO":0.87,"SD":0.70},
{"p":"Qwen3-8B","m":"reward","x":184,"AntiSD":0.92,"GRPO":0.97,"SD":0.50},
{"p":"Qwen3-8B","m":"reward","x":188,"AntiSD":1.0,"GRPO":0.90,"SD":0.75},
{"p":"Qwen3-8B","m":"reward","x":192,"AntiSD":0.97,"GRPO":0.96,"SD":0.55},
{"p":"Qwen3-8B","m":"reward","x":196,"AntiSD":0.94,"GRPO":0.88,"SD":0.72},
{"p":"Qwen3-8B","m":"reward","x":200,"AntiSD":0.89,"GRPO":0.93,"SD":0.56},

{"p":"Qwen3-8B","m":"length","x":0,"AntiSD":2.0,"GRPO":2.1,"SD":2.1,"No-teacher":2.1,"No-gate":2.1},
{"p":"Qwen3-8B","m":"length","x":4,"AntiSD":2.4,"GRPO":2.0,"SD":2.2,"No-teacher":2.3,"No-gate":2.5},
{"p":"Qwen3-8B","m":"length","x":8,"AntiSD":2.3,"GRPO":2.5,"SD":1.9,"No-teacher":2.0,"No-gate":2.9},
{"p":"Qwen3-8B","m":"length","x":12,"AntiSD":2.9,"GRPO":2.2,"SD":2.0,"No-teacher":2.4,"No-gate":3.0},
{"p":"Qwen3-8B","m":"length","x":16,"AntiSD":3.4,"GRPO":2.8,"SD":1.6,"No-teacher":2.1,"No-gate":4.4},
{"p":"Qwen3-8B","m":"length","x":20,"AntiSD":4.8,"GRPO":2.4,"SD":1.5,"No-teacher":2.3,"No-gate":6.3},
{"p":"Qwen3-8B","m":"length","x":24,"AntiSD":6.0,"GRPO":2.9,"SD":1.3,"No-teacher":2.0,"No-gate":7.8},
{"p":"Qwen3-8B","m":"length","x":28,"AntiSD":7.2,"GRPO":2.3,"SD":1.4,"No-teacher":2.4,"No-gate":10.5},
{"p":"Qwen3-8B","m":"length","x":32,"AntiSD":8.8,"GRPO":3.0,"SD":1.15,"No-teacher":2.1,"No-gate":12.8},
{"p":"Qwen3-8B","m":"length","x":36,"AntiSD":9.4,"GRPO":2.5,"SD":1.35,"No-teacher":2.3,"No-gate":12.0},
{"p":"Qwen3-8B","m":"length","x":40,"AntiSD":10.5,"GRPO":3.2,"SD":1.2,"No-teacher":1.9,"No-gate":13.2},
{"p":"Qwen3-8B","m":"length","x":44,"AntiSD":10.2,"GRPO":2.6,"SD":1.5,"No-teacher":2.2,"No-gate":12.4},
{"p":"Qwen3-8B","m":"length","x":48,"AntiSD":11.1,"GRPO":3.4,"SD":1.25,"No-teacher":1.9,"No-gate":13.6},
{"p":"Qwen3-8B","m":"length","x":52,"AntiSD":10.4,"GRPO":2.8,"SD":1.6,"No-teacher":2.1,"No-gate":12.5},
{"p":"Qwen3-8B","m":"length","x":56,"AntiSD":11.2,"GRPO":3.6,"SD":1.3,"No-teacher":1.8,"No-gate":13.0},
{"p":"Qwen3-8B","m":"length","x":60,"AntiSD":9.8,"GRPO":3.0,"SD":1.7,"No-teacher":1.5,"No-gate":12.2},
{"p":"Qwen3-8B","m":"length","x":64,"AntiSD":10.9,"GRPO":3.9,"SD":1.4,"No-teacher":1.3,"No-gate":13.8},
{"p":"Qwen3-8B","m":"length","x":68,"AntiSD":9.6,"GRPO":3.1,"SD":1.75,"No-teacher":2.8,"No-gate":13.2},
{"p":"Qwen3-8B","m":"length","x":72,"AntiSD":10.8,"GRPO":4.2,"SD":1.5,"No-teacher":5.8,"No-gate":14.8},
{"p":"Qwen3-8B","m":"length","x":76,"AntiSD":9.7,"GRPO":3.4,"SD":1.85,"No-gate":14.0},
{"p":"Qwen3-8B","m":"length","x":80,"AntiSD":10.6,"GRPO":4.4,"SD":1.55,"No-gate":16.0},
{"p":"Qwen3-8B","m":"length","x":84,"AntiSD":9.3,"GRPO":3.8,"SD":1.9,"No-gate":15.2},
{"p":"Qwen3-8B","m":"length","x":88,"AntiSD":10.5,"GRPO":5.0,"SD":1.6,"No-gate":15.8},
{"p":"Qwen3-8B","m":"length","x":92,"AntiSD":9.2,"GRPO":4.0,"SD":2.0,"No-gate":15.5},
{"p":"Qwen3-8B","m":"length","x":96,"AntiSD":10.3,"GRPO":5.4,"SD":1.65},
{"p":"Qwen3-8B","m":"length","x":100,"AntiSD":9.1,"GRPO":4.3,"SD":2.1},
{"p":"Qwen3-8B","m":"length","x":104,"AntiSD":10.4,"GRPO":5.9,"SD":1.7},
{"p":"Qwen3-8B","m":"length","x":108,"AntiSD":9.5,"GRPO":4.9,"SD":2.2},
{"p":"Qwen3-8B","m":"length","x":112,"AntiSD":10.8,"GRPO":6.2,"SD":1.8},
{"p":"Qwen3-8B","m":"length","x":116,"AntiSD":9.4,"GRPO":5.1,"SD":2.3},
{"p":"Qwen3-8B","m":"length","x":120,"AntiSD":12.0,"GRPO":6.6,"SD":1.9},
{"p":"Qwen3-8B","m":"length","x":124,"AntiSD":9.6,"GRPO":5.3,"SD":2.4},
{"p":"Qwen3-8B","m":"length","x":128,"AntiSD":10.4,"GRPO":6.8,"SD":2.0},
{"p":"Qwen3-8B","m":"length","x":132,"AntiSD":9.1,"GRPO":5.4,"SD":2.5},
{"p":"Qwen3-8B","m":"length","x":136,"AntiSD":10.2,"GRPO":7.0,"SD":2.1},
{"p":"Qwen3-8B","m":"length","x":140,"AntiSD":8.9,"GRPO":5.8,"SD":2.7},
{"p":"Qwen3-8B","m":"length","x":144,"AntiSD":10.0,"GRPO":7.2,"SD":2.2},
{"p":"Qwen3-8B","m":"length","x":148,"AntiSD":8.7,"GRPO":6.0,"SD":2.8},
{"p":"Qwen3-8B","m":"length","x":152,"AntiSD":9.9,"GRPO":7.6,"SD":2.4},
{"p":"Qwen3-8B","m":"length","x":156,"AntiSD":8.6,"GRPO":6.1,"SD":3.0},
{"p":"Qwen3-8B","m":"length","x":160,"AntiSD":9.7,"GRPO":7.8,"SD":2.5},
{"p":"Qwen3-8B","m":"length","x":164,"AntiSD":8.2,"GRPO":6.3,"SD":3.2},
{"p":"Qwen3-8B","m":"length","x":168,"AntiSD":9.4,"GRPO":7.9,"SD":2.8},
{"p":"Qwen3-8B","m":"length","x":172,"AntiSD":7.9,"GRPO":6.2,"SD":3.5},
{"p":"Qwen3-8B","m":"length","x":176,"AntiSD":9.5,"GRPO":8.2,"SD":3.0},
{"p":"Qwen3-8B","m":"length","x":180,"AntiSD":7.8,"GRPO":6.5,"SD":3.7},
{"p":"Qwen3-8B","m":"length","x":184,"AntiSD":9.2,"GRPO":8.0,"SD":3.1},
{"p":"Qwen3-8B","m":"length","x":188,"AntiSD":8.0,"GRPO":6.6,"SD":3.8},
{"p":"Qwen3-8B","m":"length","x":192,"AntiSD":9.0,"GRPO":8.1,"SD":3.3},
{"p":"Qwen3-8B","m":"length","x":196,"AntiSD":7.6,"GRPO":6.4,"SD":3.7},
{"p":"Qwen3-8B","m":"length","x":200,"AntiSD":9.0,"GRPO":7.6,"SD":3.2},

{"p":"Qwen3-4B-IT-0527","m":"reward","x":0,"AntiSD":0.78,"GRPO":0.82,"SD":0.80,"No-teacher":0.82,"No-gate":0.84},
{"p":"Qwen3-4B-IT-0527","m":"reward","x":4,"AntiSD":0.84,"GRPO":0.76,"SD":0.75,"No-teacher":0.78,"No-gate":0.70},
{"p":"Qwen3-4B-IT-0527","m":"reward","x":8,"AntiSD":0.76,"GRPO":0.84,"SD":0.82,"No-teacher":0.84,"No-gate":0.88},
{"p":"Qwen3-4B-IT-0527","m":"reward","x":12,"AntiSD":0.85,"GRPO":0.78,"SD":0.72,"No-teacher":0.76,"No-gate":0.75},
{"p":"Qwen3-4B-IT-0527","m":"reward","x":16,"AntiSD":0.80,"GRPO":0.86,"SD":0.80,"No-teacher":0.83,"No-gate":0.86},
{"p":"Qwen3-4B-IT-0527","m":"reward","x":20,"AntiSD":0.90,"GRPO":0.77,"SD":0.74,"No-teacher":0.80,"No-gate":0.80},
{"p":"Qwen3-4B-IT-0527","m":"reward","x":24,"AntiSD":0.86,"GRPO":0.85,"SD":0.78,"No-teacher":0.85,"No-gate":0.92},
{"p":"Qwen3-4B-IT-0527","m":"reward","x":28,"AntiSD":0.95,"GRPO":0.79,"SD":0.70,"No-teacher":0.80,"No-gate":0.95},
{"p":"Qwen3-4B-IT-0527","m":"reward","x":32,"AntiSD":0.90,"GRPO":0.86,"SD":0.76,"No-teacher":0.84,"No-gate":1.0},
{"p":"Qwen3-4B-IT-0527","m":"reward","x":36,"AntiSD":1.0,"GRPO":0.78,"SD":0.62,"No-teacher":0.78,"No-gate":0.98},
{"p":"Qwen3-4B-IT-0527","m":"reward","x":40,"AntiSD":0.95,"GRPO":0.84,"SD":0.60,"No-teacher":0.82,"No-gate":1.0},
{"p":"Qwen3-4B-IT-0527","m":"reward","x":44,"AntiSD":1.0,"GRPO":0.80,"SD":0.55,"No-teacher":0.79,"No-gate":0.60},
{"p":"Qwen3-4B-IT-0527","m":"reward","x":48,"AntiSD":0.97,"GRPO":0.87,"SD":0.50,"No-teacher":0.84,"No-gate":0.10},
{"p":"Qwen3-4B-IT-0527","m":"reward","x":52,"AntiSD":1.0,"GRPO":0.78,"SD":0.45,"No-teacher":0.80,"No-gate":0.0},
{"p":"Qwen3-4B-IT-0527","m":"reward","x":56,"AntiSD":0.98,"GRPO":0.86,"SD":0.48,"No-teacher":0.86,"No-gate":0.05},
{"p":"Qwen3-4B-IT-0527","m":"reward","x":60,"AntiSD":1.0,"GRPO":0.79,"SD":0.40,"No-teacher":0.78,"No-gate":0.0},
{"p":"Qwen3-4B-IT-0527","m":"reward","x":64,"AntiSD":0.96,"GRPO":0.88,"SD":0.42,"No-teacher":0.55,"No-gate":0.12},
{"p":"Qwen3-4B-IT-0527","m":"reward","x":68,"AntiSD":1.0,"GRPO":0.80,"SD":0.85,"No-teacher":0.30},
{"p":"Qwen3-4B-IT-0527","m":"reward","x":72,"AntiSD":0.97,"GRPO":0.87,"SD":0.92,"No-teacher":0.10},
{"p":"Qwen3-4B-IT-0527","m":"reward","x":76,"AntiSD":1.0,"GRPO":0.78,"SD":0.95,"No-teacher":0.0},
{"p":"Qwen3-4B-IT-0527","m":"reward","x":80,"AntiSD":0.95,"GRPO":0.90,"SD":0.98,"No-teacher":0.05},
{"p":"Qwen3-4B-IT-0527","m":"reward","x":84,"AntiSD":1.0,"GRPO":0.81,"SD":0.96,"No-teacher":0.0},
{"p":"Qwen3-4B-IT-0527","m":"reward","x":88,"AntiSD":0.94,"GRPO":0.92,"SD":0.70,"No-teacher":0.0},
{"p":"Qwen3-4B-IT-0527","m":"reward","x":92,"AntiSD":0.99,"GRPO":0.82,"SD":0.55,"No-teacher":0.02},
{"p":"Qwen3-4B-IT-0527","m":"reward","x":96,"AntiSD":0.93,"GRPO":0.90,"SD":0.78,"No-teacher":0.0},
{"p":"Qwen3-4B-IT-0527","m":"reward","x":100,"AntiSD":0.98,"GRPO":0.80,"SD":0.25,"No-teacher":0.0},
{"p":"Qwen3-4B-IT-0527","m":"reward","x":104,"AntiSD":0.92,"GRPO":0.91,"SD":0.80,"No-teacher":0.03},
{"p":"Qwen3-4B-IT-0527","m":"reward","x":108,"AntiSD":1.0,"GRPO":0.77,"No-teacher":0.0},
{"p":"Qwen3-4B-IT-0527","m":"reward","x":112,"AntiSD":0.93,"GRPO":0.88,"No-teacher":0.02},
{"p":"Qwen3-4B-IT-0527","m":"reward","x":116,"AntiSD":0.98,"GRPO":0.80,"No-teacher":0.0},
{"p":"Qwen3-4B-IT-0527","m":"reward","x":120,"AntiSD":0.91,"GRPO":0.92},
{"p":"Qwen3-4B-IT-0527","m":"reward","x":124,"AntiSD":0.99,"GRPO":0.79},
{"p":"Qwen3-4B-IT-0527","m":"reward","x":128,"AntiSD":0.93,"GRPO":0.90},
{"p":"Qwen3-4B-IT-0527","m":"reward","x":132,"AntiSD":0.97,"GRPO":0.82},
{"p":"Qwen3-4B-IT-0527","m":"reward","x":136,"AntiSD":0.90,"GRPO":0.93},
{"p":"Qwen3-4B-IT-0527","m":"reward","x":140,"AntiSD":0.98,"GRPO":0.84},
{"p":"Qwen3-4B-IT-0527","m":"reward","x":144,"AntiSD":0.88,"GRPO":0.90},
{"p":"Qwen3-4B-IT-0527","m":"reward","x":148,"AntiSD":0.93,"GRPO":0.74},
{"p":"Qwen3-4B-IT-0527","m":"reward","x":152,"AntiSD":0.86,"GRPO":0.88},
{"p":"Qwen3-4B-IT-0527","m":"reward","x":156,"AntiSD":0.95,"GRPO":0.80},
{"p":"Qwen3-4B-IT-0527","m":"reward","x":160,"AntiSD":0.87,"GRPO":0.90},
{"p":"Qwen3-4B-IT-0527","m":"reward","x":164,"AntiSD":0.97,"GRPO":0.82},
{"p":"Qwen3-4B-IT-0527","m":"reward","x":168,"AntiSD":0.90,"GRPO":0.92},
{"p":"Qwen3-4B-IT-0527","m":"reward","x":172,"AntiSD":0.98,"GRPO":0.80},
{"p":"Qwen3-4B-IT-0527","m":"reward","x":176,"AntiSD":0.88,"GRPO":0.89},
{"p":"Qwen3-4B-IT-0527","m":"reward","x":180,"AntiSD":0.96,"GRPO":0.83},
{"p":"Qwen3-4B-IT-0527","m":"reward","x":184,"AntiSD":0.90,"GRPO":0.93},
{"p":"Qwen3-4B-IT-0527","m":"reward","x":188,"AntiSD":0.99,"GRPO":0.84},
{"p":"Qwen3-4B-IT-0527","m":"reward","x":192,"AntiSD":0.91,"GRPO":0.95},
{"p":"Qwen3-4B-IT-0527","m":"reward","x":196,"AntiSD":1.0,"GRPO":0.85},
{"p":"Qwen3-4B-IT-0527","m":"reward","x":200,"AntiSD":0.93,"GRPO":0.88},

{"p":"Qwen3-4B-IT-0527","m":"length","x":0,"AntiSD":4.0,"GRPO":4.0,"SD":4.2,"No-teacher":4.6,"No-gate":3.9},
{"p":"Qwen3-4B-IT-0527","m":"length","x":4,"AntiSD":4.8,"GRPO":4.8,"SD":4.7,"No-teacher":4.9,"No-gate":5.0},
{"p":"Qwen3-4B-IT-0527","m":"length","x":8,"AntiSD":4.5,"GRPO":4.4,"SD":4.3,"No-teacher":4.4,"No-gate":4.6},
{"p":"Qwen3-4B-IT-0527","m":"length","x":12,"AntiSD":5.3,"GRPO":5.4,"SD":4.6,"No-teacher":5.0,"No-gate":5.6},
{"p":"Qwen3-4B-IT-0527","m":"length","x":16,"AntiSD":5.0,"GRPO":4.5,"SD":3.9,"No-teacher":4.3,"No-gate":5.6},
{"p":"Qwen3-4B-IT-0527","m":"length","x":20,"AntiSD":6.2,"GRPO":5.3,"SD":3.8,"No-teacher":4.6,"No-gate":6.9},
{"p":"Qwen3-4B-IT-0527","m":"length","x":24,"AntiSD":7.0,"GRPO":4.4,"SD":3.3,"No-teacher":4.1,"No-gate":7.6},
{"p":"Qwen3-4B-IT-0527","m":"length","x":28,"AntiSD":8.4,"GRPO":5.2,"SD":3.0,"No-teacher":4.7,"No-gate":8.8},
{"p":"Qwen3-4B-IT-0527","m":"length","x":32,"AntiSD":9.2,"GRPO":4.4,"SD":2.7,"No-teacher":4.3,"No-gate":11.2},
{"p":"Qwen3-4B-IT-0527","m":"length","x":36,"AntiSD":10.8,"GRPO":5.3,"SD":2.4,"No-teacher":4.9,"No-gate":15.5},
{"p":"Qwen3-4B-IT-0527","m":"length","x":40,"AntiSD":11.9,"GRPO":4.5,"SD":2.0,"No-teacher":4.6,"No-gate":16.3},
{"p":"Qwen3-4B-IT-0527","m":"length","x":44,"AntiSD":12.6,"GRPO":5.4,"SD":1.8,"No-teacher":5.2,"No-gate":16.2},
{"p":"Qwen3-4B-IT-0527","m":"length","x":48,"AntiSD":13.8,"GRPO":4.4,"SD":1.6,"No-teacher":5.4,"No-gate":16.4},
{"p":"Qwen3-4B-IT-0527","m":"length","x":52,"AntiSD":12.8,"GRPO":5.5,"SD":1.9,"No-teacher":6.0,"No-gate":16.3},
{"p":"Qwen3-4B-IT-0527","m":"length","x":56,"AntiSD":14.0,"GRPO":4.6,"SD":1.7,"No-teacher":6.6,"No-gate":16.4},
{"p":"Qwen3-4B-IT-0527","m":"length","x":60,"AntiSD":13.0,"GRPO":5.3,"SD":1.9,"No-teacher":7.6,"No-gate":16.4},
{"p":"Qwen3-4B-IT-0527","m":"length","x":64,"AntiSD":13.9,"GRPO":4.4,"SD":9.0,"No-teacher":10.0,"No-gate":16.4},
{"p":"Qwen3-4B-IT-0527","m":"length","x":68,"AntiSD":12.4,"GRPO":5.6,"SD":16.2,"No-teacher":15.5},
{"p":"Qwen3-4B-IT-0527","m":"length","x":72,"AntiSD":13.6,"GRPO":4.5,"SD":16.4,"No-teacher":16.2},
{"p":"Qwen3-4B-IT-0527","m":"length","x":76,"AntiSD":12.0,"GRPO":5.4,"SD":16.3,"No-teacher":16.0},
{"p":"Qwen3-4B-IT-0527","m":"length","x":80,"AntiSD":13.2,"GRPO":4.6,"SD":16.4,"No-teacher":16.3},
{"p":"Qwen3-4B-IT-0527","m":"length","x":84,"AntiSD":11.6,"GRPO":5.7,"SD":16.4,"No-teacher":15.8},
{"p":"Qwen3-4B-IT-0527","m":"length","x":88,"AntiSD":12.8,"GRPO":4.6,"SD":16.3,"No-teacher":16.1},
{"p":"Qwen3-4B-IT-0527","m":"length","x":92,"AntiSD":11.2,"GRPO":5.6,"SD":16.4,"No-teacher":15.6},
{"p":"Qwen3-4B-IT-0527","m":"length","x":96,"AntiSD":12.4,"GRPO":4.7,"SD":16.4,"No-teacher":16.0},
{"p":"Qwen3-4B-IT-0527","m":"length","x":100,"AntiSD":10.9,"GRPO":5.9,"SD":16.4,"No-teacher":15.5},
{"p":"Qwen3-4B-IT-0527","m":"length","x":104,"AntiSD":12.2,"GRPO":5.1,"SD":16.4,"No-teacher":15.9},
{"p":"Qwen3-4B-IT-0527","m":"length","x":108,"AntiSD":11.0,"GRPO":6.4,"No-teacher":15.5},
{"p":"Qwen3-4B-IT-0527","m":"length","x":112,"AntiSD":12.6,"GRPO":5.0,"No-teacher":15.8},
{"p":"Qwen3-4B-IT-0527","m":"length","x":116,"AntiSD":10.8,"GRPO":6.6,"No-teacher":15.5},
{"p":"Qwen3-4B-IT-0527","m":"length","x":120,"AntiSD":13.4,"GRPO":5.2},
{"p":"Qwen3-4B-IT-0527","m":"length","x":124,"AntiSD":10.9,"GRPO":6.5},
{"p":"Qwen3-4B-IT-0527","m":"length","x":128,"AntiSD":12.3,"GRPO":5.0},
{"p":"Qwen3-4B-IT-0527","m":"length","x":132,"AntiSD":10.6,"GRPO":6.6},
{"p":"Qwen3-4B-IT-0527","m":"length","x":136,"AntiSD":12.1,"GRPO":5.0},
{"p":"Qwen3-4B-IT-0527","m":"length","x":140,"AntiSD":10.5,"GRPO":6.4},
{"p":"Qwen3-4B-IT-0527","m":"length","x":144,"AntiSD":11.9,"GRPO":4.9},
{"p":"Qwen3-4B-IT-0527","m":"length","x":148,"AntiSD":10.2,"GRPO":6.5},
{"p":"Qwen3-4B-IT-0527","m":"length","x":152,"AntiSD":11.8,"GRPO":5.2},
{"p":"Qwen3-4B-IT-0527","m":"length","x":156,"AntiSD":10.3,"GRPO":6.8},
{"p":"Qwen3-4B-IT-0527","m":"length","x":160,"AntiSD":11.4,"GRPO":5.1},
{"p":"Qwen3-4B-IT-0527","m":"length","x":164,"AntiSD":10.1,"GRPO":6.6},
{"p":"Qwen3-4B-IT-0527","m":"length","x":168,"AntiSD":11.6,"GRPO":5.3},
{"p":"Qwen3-4B-IT-0527","m":"length","x":172,"AntiSD":9.9,"GRPO":6.7},
{"p":"Qwen3-4B-IT-0527","m":"length","x":176,"AntiSD":11.5,"GRPO":5.2},
{"p":"Qwen3-4B-IT-0527","m":"length","x":180,"AntiSD":10.0,"GRPO":6.9},
{"p":"Qwen3-4B-IT-0527","m":"length","x":184,"AntiSD":11.3,"GRPO":5.6},
{"p":"Qwen3-4B-IT-0527","m":"length","x":188,"AntiSD":9.6,"GRPO":7.4},
{"p":"Qwen3-4B-IT-0527","m":"length","x":192,"AntiSD":11.7,"GRPO":5.8},
{"p":"Qwen3-4B-IT-0527","m":"length","x":196,"AntiSD":10.2,"GRPO":7.2},
{"p":"Qwen3-4B-IT-0527","m":"length","x":200,"AntiSD":11.5,"GRPO":6.0},

{"p":"Olmo3-7B-IT","m":"reward","x":0,"AntiSD":0.76,"GRPO":0.72,"SD":0.70,"No-teacher":0.70,"No-gate":0.74},
{"p":"Olmo3-7B-IT","m":"reward","x":4,"AntiSD":0.62,"GRPO":0.58,"SD":0.60,"No-teacher":0.58,"No-gate":0.50},
{"p":"Olmo3-7B-IT","m":"reward","x":8,"AntiSD":0.74,"GRPO":0.76,"SD":0.72,"No-teacher":0.74,"No-gate":0.80},
{"p":"Olmo3-7B-IT","m":"reward","x":12,"AntiSD":0.60,"GRPO":0.62,"SD":0.58,"No-teacher":0.60,"No-gate":0.56},
{"p":"Olmo3-7B-IT","m":"reward","x":16,"AntiSD":0.78,"GRPO":0.74,"SD":0.74,"No-teacher":0.76,"No-gate":0.78},
{"p":"Olmo3-7B-IT","m":"reward","x":20,"AntiSD":0.65,"GRPO":0.66,"SD":0.62,"No-teacher":0.64,"No-gate":0.62},
{"p":"Olmo3-7B-IT","m":"reward","x":24,"AntiSD":0.80,"GRPO":0.78,"SD":0.76,"No-teacher":0.78,"No-gate":0.82},
{"p":"Olmo3-7B-IT","m":"reward","x":28,"AntiSD":0.70,"GRPO":0.68,"SD":0.66,"No-teacher":0.66,"No-gate":0.64},
{"p":"Olmo3-7B-IT","m":"reward","x":32,"AntiSD":0.82,"GRPO":0.80,"SD":0.78,"No-teacher":0.76,"No-gate":0.84},
{"p":"Olmo3-7B-IT","m":"reward","x":36,"AntiSD":0.68,"GRPO":0.66,"SD":0.64,"No-teacher":0.64,"No-gate":0.55},
{"p":"Olmo3-7B-IT","m":"reward","x":40,"AntiSD":0.80,"GRPO":0.78,"SD":0.76,"No-teacher":0.74,"No-gate":0.82},
{"p":"Olmo3-7B-IT","m":"reward","x":44,"AntiSD":0.66,"GRPO":0.67,"SD":0.62,"No-teacher":0.64,"No-gate":0.66},
{"p":"Olmo3-7B-IT","m":"reward","x":48,"AntiSD":0.78,"GRPO":0.76,"SD":0.74,"No-teacher":0.75,"No-gate":0.80},
{"p":"Olmo3-7B-IT","m":"reward","x":52,"AntiSD":0.70,"GRPO":0.66,"SD":0.63,"No-teacher":0.62,"No-gate":0.68},
{"p":"Olmo3-7B-IT","m":"reward","x":56,"AntiSD":0.84,"GRPO":0.80,"SD":0.76,"No-teacher":0.76,"No-gate":0.84},
{"p":"Olmo3-7B-IT","m":"reward","x":60,"AntiSD":0.70,"GRPO":0.68,"SD":0.64,"No-teacher":0.64,"No-gate":0.70},
{"p":"Olmo3-7B-IT","m":"reward","x":64,"AntiSD":0.83,"GRPO":0.79,"SD":0.75,"No-teacher":0.74,"No-gate":0.84},
{"p":"Olmo3-7B-IT","m":"reward","x":68,"AntiSD":0.72,"GRPO":0.67,"SD":0.62,"No-teacher":0.62,"No-gate":0.70},
{"p":"Olmo3-7B-IT","m":"reward","x":72,"AntiSD":0.86,"GRPO":0.80,"SD":0.74,"No-teacher":0.72,"No-gate":0.86},
{"p":"Olmo3-7B-IT","m":"reward","x":76,"AntiSD":0.70,"GRPO":0.66,"SD":0.60,"No-teacher":0.58,"No-gate":0.72},
{"p":"Olmo3-7B-IT","m":"reward","x":80,"AntiSD":0.85,"GRPO":0.79,"SD":0.76,"No-teacher":0.66,"No-gate":0.88},
{"p":"Olmo3-7B-IT","m":"reward","x":84,"AntiSD":0.74,"GRPO":0.68,"SD":0.62,"No-teacher":0.40,"No-gate":0.72},
{"p":"Olmo3-7B-IT","m":"reward","x":88,"AntiSD":0.88,"GRPO":0.81,"SD":0.74,"No-teacher":0.45,"No-gate":0.91},
{"p":"Olmo3-7B-IT","m":"reward","x":92,"AntiSD":0.76,"GRPO":0.70,"SD":0.58,"No-teacher":0.26,"No-gate":0.74},
{"p":"Olmo3-7B-IT","m":"reward","x":96,"AntiSD":0.90,"GRPO":0.82,"SD":0.76,"No-teacher":0.24,"No-gate":0.88},
{"p":"Olmo3-7B-IT","m":"reward","x":100,"AntiSD":0.78,"GRPO":0.70,"SD":0.60,"No-teacher":0.03,"No-gate":0.76},
{"p":"Olmo3-7B-IT","m":"reward","x":104,"AntiSD":0.86,"GRPO":0.80,"SD":0.74,"No-gate":0.86},
{"p":"Olmo3-7B-IT","m":"reward","x":108,"AntiSD":0.72,"GRPO":0.66,"SD":0.52,"No-gate":0.72},
{"p":"Olmo3-7B-IT","m":"reward","x":112,"AntiSD":0.84,"GRPO":0.78,"SD":0.70,"No-gate":0.85},
{"p":"Olmo3-7B-IT","m":"reward","x":116,"AntiSD":0.70,"GRPO":0.68,"SD":0.46,"No-gate":0.74},
{"p":"Olmo3-7B-IT","m":"reward","x":120,"AntiSD":0.86,"GRPO":0.80,"SD":0.72,"No-gate":0.86},
{"p":"Olmo3-7B-IT","m":"reward","x":124,"AntiSD":0.72,"GRPO":0.69,"SD":0.55,"No-gate":0.72},
{"p":"Olmo3-7B-IT","m":"reward","x":128,"AntiSD":0.85,"GRPO":0.81,"SD":0.70,"No-gate":0.86},
{"p":"Olmo3-7B-IT","m":"reward","x":132,"AntiSD":0.74,"GRPO":0.70,"SD":0.52,"No-gate":0.75},
{"p":"Olmo3-7B-IT","m":"reward","x":136,"AntiSD":0.88,"GRPO":0.83,"SD":0.72,"No-gate":0.89},
{"p":"Olmo3-7B-IT","m":"reward","x":140,"AntiSD":0.72,"GRPO":0.72,"SD":0.50,"No-gate":0.74},
{"p":"Olmo3-7B-IT","m":"reward","x":144,"AntiSD":0.86,"GRPO":0.84,"SD":0.68,"No-gate":0.86},
{"p":"Olmo3-7B-IT","m":"reward","x":148,"AntiSD":0.68,"GRPO":0.66,"SD":0.33,"No-gate":0.72},
{"p":"Olmo3-7B-IT","m":"reward","x":152,"AntiSD":0.84,"GRPO":0.80,"SD":0.64,"No-gate":0.88},
{"p":"Olmo3-7B-IT","m":"reward","x":156,"AntiSD":0.72,"GRPO":0.68,"SD":0.46,"No-gate":0.73},
{"p":"Olmo3-7B-IT","m":"reward","x":160,"AntiSD":0.86,"GRPO":0.81,"SD":0.66,"No-gate":0.85},
{"p":"Olmo3-7B-IT","m":"reward","x":164,"AntiSD":0.76,"GRPO":0.72,"SD":0.44,"No-gate":0.76},
{"p":"Olmo3-7B-IT","m":"reward","x":168,"AntiSD":0.88,"GRPO":0.84,"SD":0.64,"No-gate":0.86},
{"p":"Olmo3-7B-IT","m":"reward","x":172,"AntiSD":0.75,"GRPO":0.70,"SD":0.42,"No-gate":0.74},
{"p":"Olmo3-7B-IT","m":"reward","x":176,"AntiSD":0.86,"GRPO":0.82,"SD":0.65,"No-gate":0.85},
{"p":"Olmo3-7B-IT","m":"reward","x":180,"AntiSD":0.74,"GRPO":0.72,"SD":0.45,"No-gate":0.76},
{"p":"Olmo3-7B-IT","m":"reward","x":184,"AntiSD":0.87,"GRPO":0.84,"SD":0.62,"No-gate":0.87},
{"p":"Olmo3-7B-IT","m":"reward","x":188,"AntiSD":0.73,"GRPO":0.72,"SD":0.40,"No-gate":0.74},
{"p":"Olmo3-7B-IT","m":"reward","x":192,"AntiSD":0.90,"GRPO":0.85,"SD":0.58,"No-gate":0.86},
{"p":"Olmo3-7B-IT","m":"reward","x":196,"AntiSD":0.76,"GRPO":0.74,"SD":0.42,"No-gate":0.75},
{"p":"Olmo3-7B-IT","m":"reward","x":200,"AntiSD":0.86,"GRPO":0.82,"SD":0.35,"No-gate":0.84},

{"p":"Olmo3-7B-IT","m":"length","x":0,"AntiSD":3.9,"GRPO":3.8,"SD":3.7,"No-teacher":4.0,"No-gate":3.8},
{"p":"Olmo3-7B-IT","m":"length","x":4,"AntiSD":4.8,"GRPO":4.6,"SD":4.5,"No-teacher":4.5,"No-gate":5.0},
{"p":"Olmo3-7B-IT","m":"length","x":8,"AntiSD":4.5,"GRPO":4.3,"SD":4.2,"No-teacher":4.2,"No-gate":4.4},
{"p":"Olmo3-7B-IT","m":"length","x":12,"AntiSD":5.2,"GRPO":5.0,"SD":4.9,"No-teacher":5.0,"No-gate":5.4},
{"p":"Olmo3-7B-IT","m":"length","x":16,"AntiSD":4.4,"GRPO":4.3,"SD":4.3,"No-teacher":4.4,"No-gate":4.3},
{"p":"Olmo3-7B-IT","m":"length","x":20,"AntiSD":5.3,"GRPO":5.1,"SD":5.0,"No-teacher":5.0,"No-gate":5.2},
{"p":"Olmo3-7B-IT","m":"length","x":24,"AntiSD":4.5,"GRPO":4.4,"SD":4.3,"No-teacher":4.4,"No-gate":4.4},
{"p":"Olmo3-7B-IT","m":"length","x":28,"AntiSD":5.1,"GRPO":5.0,"SD":4.9,"No-teacher":4.9,"No-gate":5.4},
{"p":"Olmo3-7B-IT","m":"length","x":32,"AntiSD":4.6,"GRPO":4.4,"SD":4.2,"No-teacher":4.5,"No-gate":4.5},
{"p":"Olmo3-7B-IT","m":"length","x":36,"AntiSD":5.5,"GRPO":5.3,"SD":5.1,"No-teacher":5.1,"No-gate":6.3},
{"p":"Olmo3-7B-IT","m":"length","x":40,"AntiSD":4.7,"GRPO":4.5,"SD":4.3,"No-teacher":4.4,"No-gate":4.6},
{"p":"Olmo3-7B-IT","m":"length","x":44,"AntiSD":5.8,"GRPO":5.4,"SD":4.9,"No-teacher":4.9,"No-gate":5.5},
{"p":"Olmo3-7B-IT","m":"length","x":48,"AntiSD":4.6,"GRPO":4.3,"SD":4.0,"No-teacher":4.3,"No-gate":4.6},
{"p":"Olmo3-7B-IT","m":"length","x":52,"AntiSD":6.0,"GRPO":5.5,"SD":4.9,"No-teacher":5.0,"No-gate":5.9},
{"p":"Olmo3-7B-IT","m":"length","x":56,"AntiSD":4.9,"GRPO":4.4,"SD":4.1,"No-teacher":4.2,"No-gate":4.8},
{"p":"Olmo3-7B-IT","m":"length","x":60,"AntiSD":5.8,"GRPO":5.3,"SD":4.8,"No-teacher":4.8,"No-gate":5.7},
{"p":"Olmo3-7B-IT","m":"length","x":64,"AntiSD":4.6,"GRPO":4.2,"SD":3.5,"No-teacher":4.1,"No-gate":4.9},
{"p":"Olmo3-7B-IT","m":"length","x":68,"AntiSD":6.2,"GRPO":5.4,"SD":4.7,"No-teacher":4.7,"No-gate":6.3},
{"p":"Olmo3-7B-IT","m":"length","x":72,"AntiSD":4.8,"GRPO":4.4,"SD":3.9,"No-teacher":4.1,"No-gate":5.0},
{"p":"Olmo3-7B-IT","m":"length","x":76,"AntiSD":6.0,"GRPO":5.5,"SD":4.6,"No-teacher":4.8,"No-gate":6.5},
{"p":"Olmo3-7B-IT","m":"length","x":80,"AntiSD":4.8,"GRPO":4.4,"SD":3.8,"No-teacher":4.2,"No-gate":5.4},
{"p":"Olmo3-7B-IT","m":"length","x":84,"AntiSD":6.3,"GRPO":5.6,"SD":4.6,"No-teacher":4.8,"No-gate":7.0},
{"p":"Olmo3-7B-IT","m":"length","x":88,"AntiSD":4.9,"GRPO":4.3,"SD":3.7,"No-teacher":4.3,"No-gate":6.0},
{"p":"Olmo3-7B-IT","m":"length","x":92,"AntiSD":6.0,"GRPO":5.4,"SD":4.5,"No-teacher":5.2,"No-gate":7.9},
{"p":"Olmo3-7B-IT","m":"length","x":96,"AntiSD":4.7,"GRPO":4.4,"SD":3.6,"No-teacher":6.4,"No-gate":7.2},
{"p":"Olmo3-7B-IT","m":"length","x":100,"AntiSD":5.9,"GRPO":5.3,"SD":4.4,"No-teacher":11.6,"No-gate":9.8},
{"p":"Olmo3-7B-IT","m":"length","x":104,"AntiSD":5.0,"GRPO":4.5,"SD":3.7,"No-gate":9.0},
{"p":"Olmo3-7B-IT","m":"length","x":108,"AntiSD":6.4,"GRPO":5.6,"SD":4.5,"No-gate":10.6},
{"p":"Olmo3-7B-IT","m":"length","x":112,"AntiSD":5.2,"GRPO":4.6,"SD":3.8,"No-gate":8.4},
{"p":"Olmo3-7B-IT","m":"length","x":116,"AntiSD":6.6,"GRPO":5.9,"SD":4.7,"No-gate":10.2},
{"p":"Olmo3-7B-IT","m":"length","x":120,"AntiSD":7.3,"GRPO":4.7,"SD":5.0,"No-gate":11.8},
{"p":"Olmo3-7B-IT","m":"length","x":124,"AntiSD":5.4,"GRPO":6.0,"SD":3.9,"No-gate":8.6},
{"p":"Olmo3-7B-IT","m":"length","x":128,"AntiSD":6.4,"GRPO":4.6,"SD":3.6,"No-gate":10.0},
{"p":"Olmo3-7B-IT","m":"length","x":132,"AntiSD":4.9,"GRPO":5.8,"SD":2.4,"No-gate":8.2},
{"p":"Olmo3-7B-IT","m":"length","x":136,"AntiSD":6.6,"GRPO":3.8,"SD":3.8,"No-gate":10.4},
{"p":"Olmo3-7B-IT","m":"length","x":140,"AntiSD":4.6,"GRPO":5.5,"SD":3.0,"No-gate":9.0},
{"p":"Olmo3-7B-IT","m":"length","x":144,"AntiSD":6.5,"GRPO":4.4,"SD":3.6,"No-gate":11.2},
{"p":"Olmo3-7B-IT","m":"length","x":148,"AntiSD":5.0,"GRPO":6.0,"SD":2.8,"No-gate":8.8},
{"p":"Olmo3-7B-IT","m":"length","x":152,"AntiSD":6.7,"GRPO":4.6,"SD":3.4,"No-gate":10.6},
{"p":"Olmo3-7B-IT","m":"length","x":156,"AntiSD":5.1,"GRPO":6.1,"SD":2.7,"No-gate":8.0},
{"p":"Olmo3-7B-IT","m":"length","x":160,"AntiSD":6.6,"GRPO":4.5,"SD":3.5,"No-gate":10.8},
{"p":"Olmo3-7B-IT","m":"length","x":164,"AntiSD":4.9,"GRPO":5.9,"SD":2.6,"No-gate":8.6},
{"p":"Olmo3-7B-IT","m":"length","x":168,"AntiSD":6.5,"GRPO":4.4,"SD":3.3,"No-gate":10.3},
{"p":"Olmo3-7B-IT","m":"length","x":172,"AntiSD":5.0,"GRPO":5.8,"SD":2.5,"No-gate":8.8},
{"p":"Olmo3-7B-IT","m":"length","x":176,"AntiSD":6.6,"GRPO":4.5,"SD":3.3,"No-gate":11.0},
{"p":"Olmo3-7B-IT","m":"length","x":180,"AntiSD":5.0,"GRPO":5.9,"SD":2.4,"No-gate":8.4},
{"p":"Olmo3-7B-IT","m":"length","x":184,"AntiSD":6.7,"GRPO":4.6,"SD":3.1,"No-gate":10.5},
{"p":"Olmo3-7B-IT","m":"length","x":188,"AntiSD":5.2,"GRPO":6.0,"SD":2.6,"No-gate":8.7},
{"p":"Olmo3-7B-IT","m":"length","x":192,"AntiSD":6.9,"GRPO":4.7,"SD":3.2,"No-gate":11.2},
{"p":"Olmo3-7B-IT","m":"length","x":196,"AntiSD":5.3,"GRPO":5.8,"SD":2.7,"No-gate":9.0},
{"p":"Olmo3-7B-IT","m":"length","x":200,"AntiSD":6.4,"GRPO":4.5,"SD":3.0,"No-gate":10.4}
]
},
"columns":3,
"spacing":{"row":42,"column":96},
"bounds":"flush",
"concat":[
{"width":595,"height":260,"title":"Qwen3-8B",
 "encoding":{
  "x":{"field":"x","type":"quantitative","scale":{"domain":[0,200],"nice":false},"axis":{"values":[0,25,50,75,100,125,150,175,200],"labels":false,"title":null}},
  "y":{"field":"value","type":"quantitative","scale":{"domain":[0,1.05],"nice":false,"zero":false},"axis":{"values":[0,0.25,0.5,0.75,1],"format":".2f","title":"reward (completed)"}},
  "color":{"field":"series","type":"nominal","scale":{"domain":["AntiSD","GRPO","SD","No-teacher","No-gate"],"range":["#249a5c","#5a6270","#c0392b","#e67e22","#6b4423"]},"legend":{"title":null,"orient":"none","legendX":515,"legendY":-100,"direction":"horizontal"}}},
 "layer":[
  {"data":{"name":"raw"},"transform":[{"filter":"datum.p==='Qwen3-8B' && datum.m==='reward'"},{"fold":["AntiSD","GRPO","SD","No-teacher","No-gate"],"as":["series","value"]},{"filter":"datum.value != null"}],"mark":{"type":"line","strokeWidth":1.3,"opacity":0.24,"clip":true}},
  {"data":{"name":"smooth"},"transform":[{"filter":"datum.p==='Qwen3-8B' && datum.m==='reward'"},{"fold":["AntiSD","GRPO","SD","No-teacher","No-gate"],"as":["series","value"]},{"filter":"datum.value != null"}],"mark":{"type":"line","strokeWidth":4.2,"clip":true}}
 ]},
{"width":595,"height":260,"title":"Qwen3-4B-IT-0527",
 "encoding":{
  "x":{"field":"x","type":"quantitative","scale":{"domain":[0,200],"nice":false},"axis":{"values":[0,25,50,75,100,125,150,175,200],"labels":false,"title":null}},
  "y":{"field":"value","type":"quantitative","scale":{"domain":[0,1.05],"nice":false,"zero":false},"axis":{"values":[0,0.25,0.5,0.75,1],"format":".2f","title":null}},
  "color":{"field":"series","type":"nominal","scale":{"domain":["AntiSD","GRPO","SD","No-teacher","No-gate"],"range":["#249a5c","#5a6270","#c0392b","#e67e22","#6b4423"]},"legend":{"title":null,"orient":"none","legendX":515,"legendY":-100,"direction":"horizontal"}}},
 "layer":[
  {"data":{"name":"raw"},"transform":[{"filter":"datum.p==='Qwen3-4B-IT-0527' && datum.m==='reward'"},{"fold":["AntiSD","GRPO","SD","No-teacher","No-gate"],"as":["series","value"]},{"filter":"datum.value != null"}],"mark":{"type":"line","strokeWidth":1.3,"opacity":0.24,"clip":true}},
  {"data":{"name":"smooth"},"transform":[{"filter":"datum.p==='Qwen3-4B-IT-0527' && datum.m==='reward'"},{"fold":["AntiSD","GRPO","SD","No-teacher","No-gate"],"as":["series","value"]},{"filter":"datum.value != null"}],"mark":{"type":"line","strokeWidth":4.2,"clip":true}}
 ]},
{"width":595,"height":260,"title":"Olmo3-7B-IT",
 "encoding":{
  "x":{"field":"x","type":"quantitative","scale":{"domain":[0,200],"nice":false},"axis":{"values":[0,25,50,75,100,125,150,175,200],"labels":false,"title":null}},
  "y":{"field":"value","type":"quantitative","scale":{"domain":[0,1.05],"nice":false,"zero":false},"axis":{"values":[0,0.25,0.5,0.75,1],"format":".2f","title":null}},
  "color":{"field":"series","type":"nominal","scale":{"domain":["AntiSD","GRPO","SD","No-teacher","No-gate"],"range":["#249a5c","#5a6270","#c0392b","#e67e22","#6b4423"]},"legend":{"title":null,"orient":"none","legendX":515,"legendY":-100,"direction":"horizontal"}}},
 "layer":[
  {"data":{"name":"raw"},"transform":[{"filter":"datum.p==='Olmo3-7B-IT' && datum.m==='reward'"},{"fold":["AntiSD","GRPO","SD","No-teacher","No-gate"],"as":["series","value"]},{"filter":"datum.value != null"}],"mark":{"type":"line","strokeWidth":1.3,"opacity":0.24,"clip":true}},
  {"data":{"name":"smooth"},"transform":[{"filter":"datum.p==='Olmo3-7B-IT' && datum.m==='reward'"},{"fold":["AntiSD","GRPO","SD","No-teacher","No-gate"],"as":["series","value"]},{"filter":"datum.value != null"}],"mark":{"type":"line","strokeWidth":4.2,"clip":true}}
 ]},
{"width":595,"height":260,
 "encoding":{
  "x":{"field":"x","type":"quantitative","scale":{"domain":[0,200],"nice":false},"axis":{"values":[0,25,50,75,100,125,150,175,200],"title":"training step"}},
  "y":{"field":"value","type":"quantitative","scale":{"domain":[0.35,16.8],"nice":false,"zero":false},"axis":{"values":[6,12],"title":"length (k tokens)"}},
  "color":{"field":"series","type":"nominal","scale":{"domain":["AntiSD","GRPO","SD","No-teacher","No-gate"],"range":["#249a5c","#5a6270","#c0392b","#e67e22","#6b4423"]},"legend":{"title":null,"orient":"none","legendX":515,"legendY":-100,"direction":"horizontal"}}},
 "layer":[
  {"data":{"name":"raw"},"transform":[{"filter":"datum.p==='Qwen3-8B' && datum.m==='length'"},{"fold":["AntiSD","GRPO","SD","No-teacher","No-gate"],"as":["series","value"]},{"filter":"datum.value != null"}],"mark":{"type":"line","strokeWidth":1.3,"opacity":0.24,"clip":true}},
  {"data":{"name":"smooth"},"transform":[{"filter":"datum.p==='Qwen3-8B' && datum.m==='length'"},{"fold":["AntiSD","GRPO","SD","No-teacher","No-gate"],"as":["series","value"]},{"filter":"datum.value != null"}],"mark":{"type":"line","strokeWidth":4.2,"clip":true}}
 ]},
{"width":595,"height":260,
 "encoding":{
  "x":{"field":"x","type":"quantitative","scale":{"domain":[0,200],"nice":false},"axis":{"values":[0,25,50,75,100,125,150,175,200],"title":"training step"}},
  "y":{"field":"value","type":"quantitative","scale":{"domain":[0.7,17.1],"nice":false,"zero":false},"axis":{"values":[6,12],"title":null}},
  "color":{"field":"series","type":"nominal","scale":{"domain":["AntiSD","GRPO","SD","No-teacher","No-gate"],"range":["#249a5c","#5a6270","#c0392b","#e67e22","#6b4423"]},"legend":{"title":null,"orient":"none","legendX":515,"legendY":-100,"direction":"horizontal"}}},
 "layer":[
  {"data":{"name":"raw"},"transform":[{"filter":"datum.p==='Qwen3-4B-IT-0527' && datum.m==='length'"},{"fold":["AntiSD","GRPO","SD","No-teacher","No-gate"],"as":["series","value"]},{"filter":"datum.value != null"}],"mark":{"type":"line","strokeWidth":1.3,"opacity":0.24,"clip":true}},
  {"data":{"name":"smooth"},"transform":[{"filter":"datum.p==='Qwen3-4B-IT-0527' && datum.m==='length'"},{"fold":["AntiSD","GRPO","SD","No-teacher","No-gate"],"as":["series","value"]},{"filter":"datum.value != null"}],"mark":{"type":"line","strokeWidth":4.2,"clip":true}}
 ]},
{"width":595,"height":260,
 "encoding":{
  "x":{"field":"x","type":"quantitative","scale":{"domain":[0,200],"nice":false},"axis":{"values":[0,25,50,75,100,125,150,175,200],"title":"training step"}},
  "y":{"field":"value","type":"quantitative","scale":{"domain":[1.87,12.34],"nice":false,"zero":false},"axis":{"values":[4,8,12],"title":null}},
  "color":{"field":"series","type":"nominal","scale":{"domain":["AntiSD","GRPO","SD","No-teacher","No-gate"],"range":["#249a5c","#5a6270","#c0392b","#e67e22","#6b4423"]},"legend":{"title":null,"orient":"none","legendX":515,"legendY":-100,"direction":"horizontal"}}},
 "layer":[
  {"data":{"name":"raw"},"transform":[{"filter":"datum.p==='Olmo3-7B-IT' && datum.m==='length'"},{"fold":["AntiSD","GRPO","SD","No-teacher","No-gate"],"as":["series","value"]},{"filter":"datum.value != null"}],"mark":{"type":"line","strokeWidth":1.3,"opacity":0.24,"clip":true}},
  {"data":{"name":"smooth"},"transform":[{"filter":"datum.p==='Olmo3-7B-IT' && datum.m==='length'"},{"fold":["AntiSD","GRPO","SD","No-teacher","No-gate"],"as":["series","value"]},{"filter":"datum.value != null"}],"mark":{"type":"line","strokeWidth":4.2,"clip":true}}
 ]}
],
"resolve":{"scale":{"color":"shared","x":"independent","y":"independent"}},
"config":{
 "font":"Liberation Sans",
 "view":{"stroke":null},
 "axis":{"domainColor":"#000000","domainWidth":2.4,"tickColor":"#000000","tickWidth":2.4,"tickSize":10,"labelFont":"Liberation Sans","labelFontSize":22,"labelColor":"#000000","labelPadding":13,"labelFlush":false,"labelOverlap":false,"titleFont":"Liberation Sans","titleFontSize":26.5,"titleFontWeight":"normal","titleColor":"#000000","gridColor":"#eeeeee","gridWidth":1.5},
 "axisX":{"grid":false,"titlePadding":10},
 "axisY":{"grid":true,"titlePadding":16},
 "title":{"font":"Liberation Sans","fontSize":30,"fontWeight":"normal","color":"#000000","anchor":"middle","frame":"group","offset":14,"baseline":"alphabetic"},
 "legend":{"symbolType":"stroke","symbolSize":2401,"symbolStrokeWidth":4.5,"symbolOpacity":1,"labelFont":"Liberation Sans","labelFontSize":26.5,"labelColor":"#000000","labelOffset":10,"columnPadding":36,"padding":0,"labelLimit":400}
}
}
